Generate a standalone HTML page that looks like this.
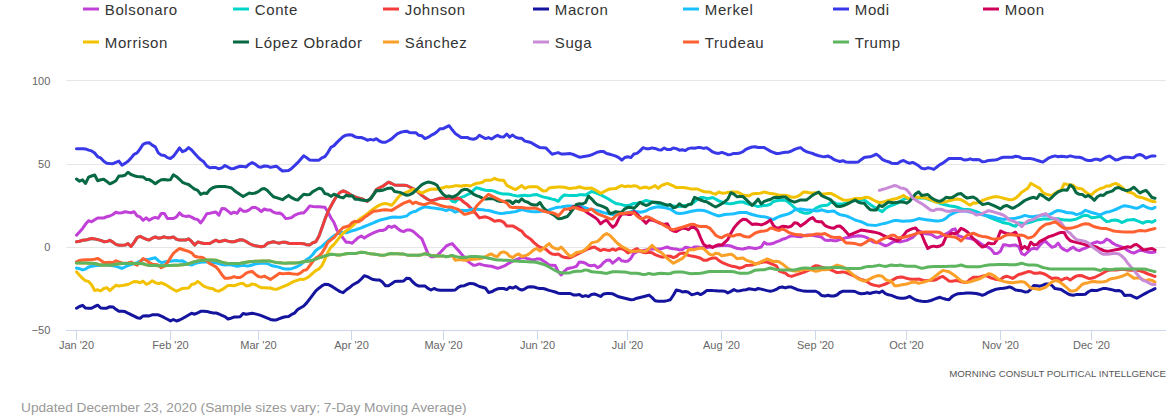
<!DOCTYPE html>
<html><head><meta charset="utf-8"><title>Global Leader Approval</title>
<style>
html,body{margin:0;padding:0;background:#fff;width:1175px;height:418px;overflow:hidden}
svg{position:absolute;left:0;top:0;font-family:"Liberation Sans", sans-serif}
</style></head><body>
<svg width="1175" height="418" viewBox="0 0 1175 418">
<path d="M66 80.5 L1166 80.5" stroke="#e6e6e6" stroke-width="1" fill="none"/>
<path d="M66 164.5 L1166 164.5" stroke="#e6e6e6" stroke-width="1" fill="none"/>
<path d="M66 247.5 L1166 247.5" stroke="#e6e6e6" stroke-width="1" fill="none"/>
<path d="M66 330.5 L1166 330.5" stroke="#ccd6eb" stroke-width="1" fill="none"/>
<path d="M76.5 330 L76.5 340" stroke="#ccd6eb" stroke-width="1" fill="none"/>
<path d="M170.5 330 L170.5 340" stroke="#ccd6eb" stroke-width="1" fill="none"/>
<path d="M258.5 330 L258.5 340" stroke="#ccd6eb" stroke-width="1" fill="none"/>
<path d="M351.5 330 L351.5 340" stroke="#ccd6eb" stroke-width="1" fill="none"/>
<path d="M443.5 330 L443.5 340" stroke="#ccd6eb" stroke-width="1" fill="none"/>
<path d="M537.5 330 L537.5 340" stroke="#ccd6eb" stroke-width="1" fill="none"/>
<path d="M627.5 330 L627.5 340" stroke="#ccd6eb" stroke-width="1" fill="none"/>
<path d="M721.5 330 L721.5 340" stroke="#ccd6eb" stroke-width="1" fill="none"/>
<path d="M815.5 330 L815.5 340" stroke="#ccd6eb" stroke-width="1" fill="none"/>
<path d="M906.5 330 L906.5 340" stroke="#ccd6eb" stroke-width="1" fill="none"/>
<path d="M1000.5 330 L1000.5 340" stroke="#ccd6eb" stroke-width="1" fill="none"/>
<path d="M1091.5 330 L1091.5 340" stroke="#ccd6eb" stroke-width="1" fill="none"/>
<text x="76.5" y="349" text-anchor="middle" font-size="11" fill="#666666">Jan '20</text>
<text x="170.5" y="349" text-anchor="middle" font-size="11" fill="#666666">Feb '20</text>
<text x="258.5" y="349" text-anchor="middle" font-size="11" fill="#666666">Mar '20</text>
<text x="351.5" y="349" text-anchor="middle" font-size="11" fill="#666666">Apr '20</text>
<text x="443.5" y="349" text-anchor="middle" font-size="11" fill="#666666">May '20</text>
<text x="537.5" y="349" text-anchor="middle" font-size="11" fill="#666666">Jun '20</text>
<text x="627.5" y="349" text-anchor="middle" font-size="11" fill="#666666">Jul '20</text>
<text x="721.5" y="349" text-anchor="middle" font-size="11" fill="#666666">Aug '20</text>
<text x="815.5" y="349" text-anchor="middle" font-size="11" fill="#666666">Sep '20</text>
<text x="906.5" y="349" text-anchor="middle" font-size="11" fill="#666666">Oct '20</text>
<text x="1000.5" y="349" text-anchor="middle" font-size="11" fill="#666666">Nov '20</text>
<text x="1091.5" y="349" text-anchor="middle" font-size="11" fill="#666666">Dec '20</text>
<text x="50.3" y="85" text-anchor="end" font-size="11" fill="#666666">100</text>
<text x="50.3" y="168" text-anchor="end" font-size="11" fill="#666666">50</text>
<text x="50.3" y="251" text-anchor="end" font-size="11" fill="#666666">0</text>
<text x="50.3" y="334" text-anchor="end" font-size="11" fill="#666666">−50</text>
<path d="M76.5 235.2 L79.5 231.9 L82.6 228.4 L85.6 224.1 L88.6 220.7 L91.6 221.8 L94.7 219.8 L97.7 218.0 L100.7 218.0 L103.8 218.0 L106.8 216.7 L109.8 216.0 L112.9 214.5 L115.9 212.2 L118.9 213.1 L121.9 212.7 L125.0 211.8 L128.0 212.3 L131.0 212.7 L134.1 211.7 L137.1 215.8 L140.1 216.9 L143.1 220.3 L146.2 217.8 L149.2 220.3 L152.2 218.4 L155.3 217.3 L158.3 218.3 L161.3 213.4 L164.4 213.5 L167.4 218.5 L170.4 218.5 L173.4 218.5 L176.5 216.9 L179.5 212.8 L182.5 215.6 L185.6 216.4 L188.6 215.9 L191.6 217.1 L194.7 218.9 L197.7 219.6 L200.7 222.9 L203.7 218.8 L206.8 213.7 L209.8 213.2 L212.8 212.6 L215.9 212.1 L218.9 215.2 L221.9 208.5 L224.9 208.7 L228.0 211.1 L231.0 213.7 L234.0 212.2 L237.1 213.3 L240.1 208.8 L243.1 211.2 L246.2 211.3 L249.2 209.8 L252.2 207.4 L255.2 207.4 L258.3 209.0 L261.3 211.6 L264.3 209.0 L267.4 210.1 L270.4 210.1 L273.4 212.2 L276.4 213.2 L279.5 212.9 L282.5 214.6 L285.5 218.4 L288.6 218.3 L291.6 217.6 L294.6 215.3 L297.7 213.9 L300.7 213.1 L303.7 213.0 L306.7 209.8 L309.8 205.9 L312.8 206.5 L315.8 206.7 L318.9 206.8 L321.9 207.0 L324.9 207.2 L327.9 212.0 L331.0 218.0 L334.0 222.5 L337.0 230.1 L340.1 234.1 L343.1 238.1 L346.1 242.2 L349.2 242.2 L352.2 243.3 L355.2 240.3 L358.2 237.6 L361.3 236.1 L364.3 238.1 L367.3 236.1 L370.4 234.3 L373.4 232.9 L376.4 231.6 L379.4 230.6 L382.5 230.5 L385.5 229.4 L388.5 226.2 L391.6 227.4 L394.6 225.9 L397.6 228.5 L400.7 230.8 L403.7 231.6 L406.7 230.0 L409.7 229.9 L412.8 231.2 L415.8 233.6 L418.8 236.3 L421.9 238.9 L424.9 246.1 L427.9 253.6 L431.0 256.8 L434.0 256.7 L437.0 255.7 L440.0 252.8 L443.1 249.5 L446.1 246.2 L449.1 244.7 L452.2 243.6 L455.2 246.9 L458.2 250.2 L461.2 253.8 L464.3 257.3 L467.3 260.8 L470.3 263.1 L473.4 265.3 L476.4 264.9 L479.4 263.9 L482.5 264.9 L485.5 265.6 L488.5 265.9 L491.5 266.3 L494.6 267.3 L497.6 268.3 L500.6 267.4 L503.7 266.2 L506.7 264.6 L509.7 262.7 L512.7 261.1 L515.8 259.8 L518.8 258.6 L521.8 257.8 L524.9 257.8 L527.9 258.8 L530.9 259.4 L534.0 259.8 L537.0 258.8 L540.0 258.9 L543.0 260.6 L546.1 262.8 L549.1 265.0 L552.1 265.2 L555.2 265.5 L558.2 271.6 L561.2 275.0 L564.2 271.4 L567.3 268.7 L570.3 268.0 L573.3 267.4 L576.4 266.4 L579.4 261.9 L582.4 262.3 L585.5 263.3 L588.5 265.3 L591.5 265.8 L594.5 265.1 L597.6 267.7 L600.6 265.9 L603.6 262.6 L606.7 260.2 L609.7 260.0 L612.7 263.2 L615.8 260.7 L618.8 258.2 L621.8 260.8 L624.8 261.4 L627.9 261.1 L630.9 258.3 L633.9 253.3 L637.0 251.8 L640.0 250.7 L643.0 250.4 L646.0 250.0 L649.1 249.2 L652.1 248.9 L655.1 249.1 L658.2 249.1 L661.2 248.9 L664.2 247.9 L667.3 247.0 L670.3 248.3 L673.3 248.7 L676.3 249.0 L679.4 249.9 L682.4 249.6 L685.4 247.3 L688.5 247.7 L691.5 248.7 L694.5 246.9 L697.5 247.1 L700.6 247.4 L703.6 247.5 L706.6 247.5 L709.7 247.3 L712.7 246.9 L715.7 246.3 L718.8 245.7 L721.8 245.4 L724.8 245.4 L727.8 245.6 L730.9 246.0 L733.9 247.3 L736.9 248.2 L740.0 248.8 L743.0 249.0 L746.0 248.3 L749.0 247.5 L752.1 247.9 L755.1 248.4 L758.1 247.9 L761.2 247.0 L764.2 242.4 L767.2 244.1 L770.3 244.0 L773.3 243.3 L776.3 241.9 L779.3 240.9 L782.4 239.3 L785.4 238.5 L788.4 237.0 L791.5 235.7 L794.5 236.0 L797.5 236.5 L800.6 236.8 L803.6 235.8 L806.6 235.1 L809.6 234.9 L812.7 235.4 L815.7 236.1 L818.7 236.4 L821.8 237.3 L824.8 240.0 L827.8 240.5 L830.8 240.1 L833.9 240.8 L836.9 240.7 L839.9 239.7 L843.0 238.7 L846.0 237.7 L849.0 237.2 L852.1 236.6 L855.1 236.2 L858.1 235.7 L861.1 236.0 L864.2 236.6 L867.2 237.8 L870.2 240.1 L873.3 242.1 L876.3 242.5 L879.3 242.8 L882.3 244.3 L885.4 245.8 L888.4 244.8 L891.4 242.9 L894.5 241.4 L897.5 241.6 L900.5 241.9 L903.6 241.1 L906.6 240.4 L909.6 238.9 L912.6 237.4 L915.7 234.5 L918.7 231.0 L921.7 232.2 L924.8 233.5 L927.8 234.0 L930.8 234.2 L933.8 236.1 L936.9 237.8 L939.9 236.6 L942.9 235.4 L946.0 233.8 L949.0 232.3 L952.0 229.8 L955.1 228.9 L958.1 235.6 L961.1 236.6 L964.1 237.6 L967.2 238.1 L970.2 238.5 L973.2 239.3 L976.3 240.5 L979.3 242.5 L982.3 244.7 L985.4 246.2 L988.4 247.3 L991.4 249.6 L994.4 253.6 L997.5 253.4 L1000.5 251.2 L1003.5 244.7 L1006.6 245.1 L1009.6 245.7 L1012.6 245.2 L1015.6 245.1 L1018.7 246.5 L1021.7 253.6 L1024.7 255.0 L1027.8 252.0 L1030.8 249.4 L1033.8 248.2 L1036.9 249.1 L1039.9 245.2 L1042.9 242.1 L1045.9 241.6 L1049.0 244.7 L1052.0 247.3 L1055.0 246.4 L1058.1 243.0 L1061.1 247.5 L1064.1 249.7 L1067.1 250.9 L1070.2 248.9 L1073.2 247.1 L1076.2 249.6 L1079.3 250.7 L1082.3 249.2 L1085.3 248.2 L1088.4 246.6 L1091.4 244.0 L1094.4 242.7 L1097.4 241.8 L1100.5 242.9 L1103.5 242.1 L1106.5 239.1 L1109.6 240.5 L1112.6 243.1 L1115.6 244.8 L1118.6 245.8 L1121.7 246.9 L1124.7 248.2 L1127.7 250.5 L1130.8 252.1 L1133.8 253.1 L1136.8 251.7 L1139.9 250.2 L1142.9 250.5 L1145.9 251.5 L1148.9 252.2 L1152.0 252.4 L1155.0 251.9" stroke="#c040d8" stroke-width="3" fill="none" stroke-linejoin="round" stroke-linecap="round"/>
<path d="M76.5 241.8 L79.5 241.3 L82.6 240.3 L85.6 240.1 L88.6 239.2 L91.6 238.5 L94.7 238.9 L97.7 239.6 L100.7 240.4 L103.8 241.7 L106.8 241.6 L109.8 240.3 L112.9 242.1 L115.9 244.4 L118.9 245.2 L121.9 245.2 L125.0 245.1 L128.0 243.6 L131.0 246.5 L134.1 242.4 L137.1 237.6 L140.1 236.3 L143.1 237.9 L146.2 239.2 L149.2 240.1 L152.2 238.2 L155.3 237.0 L158.3 238.2 L161.3 237.7 L164.4 236.8 L167.4 237.8 L170.4 237.8 L173.4 236.9 L176.5 239.3 L179.5 240.1 L182.5 240.1 L185.6 240.1 L188.6 238.8 L191.6 241.4 L194.7 245.0 L197.7 242.0 L200.7 242.8 L203.7 243.5 L206.8 243.5 L209.8 243.5 L212.8 241.8 L215.9 240.2 L218.9 241.7 L221.9 241.0 L224.9 240.2 L228.0 241.1 L231.0 241.8 L234.0 241.7 L237.1 240.7 L240.1 239.7 L243.1 240.0 L246.2 241.6 L249.2 243.5 L252.2 244.9 L255.2 245.7 L258.3 246.3 L261.3 246.8 L264.3 246.1 L267.4 243.3 L270.4 242.5 L273.4 241.8 L276.4 242.6 L279.5 243.2 L282.5 242.2 L285.5 242.2 L288.6 243.2 L291.6 243.4 L294.6 243.4 L297.7 243.4 L300.7 243.5 L303.7 243.7 L306.7 244.8 L309.8 244.9 L312.8 242.7 L315.8 241.8 L318.9 236.3 L321.9 227.9 L324.9 219.4 L327.9 211.8 L331.0 206.0 L334.0 200.6 L337.0 195.5 L340.1 192.3 L343.1 190.8 L346.1 192.0 L349.2 193.9 L352.2 195.7 L355.2 196.9 L358.2 197.9 L361.3 198.7 L364.3 200.0 L367.3 201.5 L370.4 198.7 L373.4 194.5 L376.4 189.5 L379.4 187.8 L382.5 186.4 L385.5 184.3 L388.5 182.2 L391.6 183.5 L394.6 185.0 L397.6 185.2 L400.7 185.3 L403.7 185.3 L406.7 185.5 L409.7 187.0 L412.8 188.5 L415.8 190.0 L418.8 192.6 L421.9 195.4 L424.9 197.6 L427.9 199.5 L431.0 200.9 L434.0 200.1 L437.0 199.1 L440.0 198.2 L443.1 198.2 L446.1 198.4 L449.1 197.9 L452.2 201.2 L455.2 202.0 L458.2 199.1 L461.2 197.4 L464.3 196.3 L467.3 194.7 L470.3 193.3 L473.4 190.4 L476.4 187.7 L479.4 188.5 L482.5 189.5 L485.5 190.2 L488.5 190.6 L491.5 190.6 L494.6 191.3 L497.6 192.7 L500.6 193.4 L503.7 193.9 L506.7 193.9 L509.7 194.3 L512.7 195.1 L515.8 195.7 L518.8 195.9 L521.8 195.4 L524.9 195.3 L527.9 195.8 L530.9 195.4 L534.0 194.8 L537.0 194.6 L540.0 195.8 L543.0 196.9 L546.1 197.6 L549.1 198.3 L552.1 199.1 L555.2 199.8 L558.2 201.3 L561.2 197.5 L564.2 194.9 L567.3 195.3 L570.3 195.6 L573.3 195.6 L576.4 195.6 L579.4 194.8 L582.4 194.7 L585.5 195.1 L588.5 193.3 L591.5 191.4 L594.5 192.4 L597.6 193.5 L600.6 194.8 L603.6 196.4 L606.7 198.0 L609.7 199.8 L612.7 201.7 L615.8 203.4 L618.8 203.9 L621.8 204.6 L624.8 205.6 L627.9 205.6 L630.9 204.7 L633.9 203.5 L637.0 203.2 L640.0 202.6 L643.0 201.7 L646.0 200.5 L649.1 201.2 L652.1 202.1 L655.1 202.8 L658.2 203.5 L661.2 204.2 L664.2 204.7 L667.3 205.1 L670.3 205.4 L673.3 205.9 L676.3 206.5 L679.4 206.5 L682.4 206.1 L685.4 205.6 L688.5 204.9 L691.5 204.0 L694.5 201.7 L697.5 199.4 L700.6 197.5 L703.6 197.6 L706.6 198.5 L709.7 198.2 L712.7 197.5 L715.7 199.2 L718.8 200.8 L721.8 202.0 L724.8 203.1 L727.8 203.5 L730.9 203.7 L733.9 203.3 L736.9 202.5 L740.0 202.0 L743.0 201.9 L746.0 203.4 L749.0 204.3 L752.1 204.5 L755.1 205.6 L758.1 206.6 L761.2 205.9 L764.2 205.4 L767.2 205.2 L770.3 204.3 L773.3 201.5 L776.3 200.8 L779.3 200.3 L782.4 200.1 L785.4 200.2 L788.4 202.3 L791.5 204.8 L794.5 207.8 L797.5 210.0 L800.6 211.9 L803.6 212.9 L806.6 213.3 L809.6 212.8 L812.7 210.8 L815.7 208.3 L818.7 206.8 L821.8 205.8 L824.8 205.4 L827.8 205.0 L830.8 202.3 L833.9 202.3 L836.9 204.1 L839.9 204.0 L843.0 203.9 L846.0 203.1 L849.0 202.1 L852.1 201.2 L855.1 200.5 L858.1 199.9 L861.1 199.9 L864.2 199.9 L867.2 202.1 L870.2 204.4 L873.3 206.4 L876.3 208.3 L879.3 210.1 L882.3 211.6 L885.4 208.6 L888.4 206.7 L891.4 205.5 L894.5 204.3 L897.5 203.1 L900.5 201.3 L903.6 199.2 L906.6 198.3 L909.6 198.5 L912.6 198.6 L915.7 198.1 L918.7 197.7 L921.7 197.9 L924.8 198.1 L927.8 199.0 L930.8 200.2 L933.8 201.2 L936.9 202.3 L939.9 203.3 L942.9 204.2 L946.0 205.0 L949.0 205.8 L952.0 206.2 L955.1 206.6 L958.1 207.5 L961.1 208.8 L964.1 209.6 L967.2 209.6 L970.2 209.7 L973.2 210.7 L976.3 211.7 L979.3 212.8 L982.3 214.0 L985.4 215.3 L988.4 216.8 L991.4 218.2 L994.4 219.4 L997.5 220.5 L1000.5 221.6 L1003.5 222.8 L1006.6 223.2 L1009.6 223.9 L1012.6 225.5 L1015.6 226.2 L1018.7 222.8 L1021.7 223.2 L1024.7 223.6 L1027.8 222.9 L1030.8 222.1 L1033.8 221.0 L1036.9 219.9 L1039.9 219.5 L1042.9 219.0 L1045.9 218.9 L1049.0 218.9 L1052.0 218.8 L1055.0 218.7 L1058.1 218.8 L1061.1 219.4 L1064.1 220.0 L1067.1 220.1 L1070.2 220.3 L1073.2 219.7 L1076.2 219.1 L1079.3 217.7 L1082.3 216.0 L1085.3 215.3 L1088.4 215.8 L1091.4 217.8 L1094.4 217.6 L1097.4 216.9 L1100.5 216.6 L1103.5 219.1 L1106.5 221.5 L1109.6 221.2 L1112.6 220.2 L1115.6 220.0 L1118.6 220.7 L1121.7 222.5 L1124.7 221.4 L1127.7 219.9 L1130.8 219.7 L1133.8 219.4 L1136.8 220.7 L1139.9 221.9 L1142.9 223.2 L1145.9 221.7 L1148.9 221.4 L1152.0 222.2 L1155.0 220.6" stroke="#00d4c8" stroke-width="3" fill="none" stroke-linejoin="round" stroke-linecap="round"/>
<path d="M76.5 241.8 L79.5 241.3 L82.6 240.3 L85.6 240.1 L88.6 239.2 L91.6 238.5 L94.7 238.9 L97.7 239.6 L100.7 240.4 L103.8 241.7 L106.8 241.6 L109.8 240.3 L112.9 242.1 L115.9 244.4 L118.9 245.2 L121.9 245.2 L125.0 245.1 L128.0 243.6 L131.0 246.5 L134.1 242.4 L137.1 237.6 L140.1 236.3 L143.1 237.9 L146.2 239.2 L149.2 240.1 L152.2 238.2 L155.3 237.0 L158.3 238.2 L161.3 237.7 L164.4 236.8 L167.4 237.8 L170.4 237.8 L173.4 236.9 L176.5 239.3 L179.5 240.1 L182.5 240.1 L185.6 240.1 L188.6 238.8 L191.6 241.4 L194.7 245.0 L197.7 242.0 L200.7 242.8 L203.7 243.5 L206.8 243.5 L209.8 243.5 L212.8 241.8 L215.9 240.2 L218.9 241.7 L221.9 241.0 L224.9 240.2 L228.0 241.1 L231.0 241.8 L234.0 241.7 L237.1 240.7 L240.1 239.7 L243.1 240.0 L246.2 241.6 L249.2 243.5 L252.2 244.9 L255.2 245.7 L258.3 246.3 L261.3 246.8 L264.3 246.1 L267.4 243.3 L270.4 242.5 L273.4 241.8 L276.4 242.6 L279.5 243.2 L282.5 242.2 L285.5 242.2 L288.6 243.2 L291.6 243.4 L294.6 243.4 L297.7 243.4 L300.7 243.5 L303.7 243.7 L306.7 244.8 L309.8 244.9 L312.8 242.7 L315.8 241.8 L318.9 236.3 L321.9 227.9 L324.9 219.4 L327.9 211.8 L331.0 206.0 L334.0 200.6 L337.0 195.5 L340.1 192.3 L343.1 190.8 L346.1 192.0 L349.2 193.9 L352.2 195.7 L355.2 196.9 L358.2 197.9 L361.3 198.7 L364.3 200.0 L367.3 201.5 L370.4 198.7 L373.4 194.5 L376.4 189.5 L379.4 187.8 L382.5 186.4 L385.5 184.3 L388.5 182.2 L391.6 183.5 L394.6 185.0 L397.6 185.2 L400.7 185.3 L403.7 185.3 L406.7 185.5 L409.7 187.0 L412.8 188.5 L415.8 190.0 L418.8 192.6 L421.9 195.4 L424.9 197.6 L427.9 199.5 L431.0 200.9 L434.0 200.1 L437.0 199.1 L440.0 198.2 L443.1 198.2 L446.1 198.4 L449.1 197.9 L452.2 198.2 L455.2 199.0 L458.2 197.9 L461.2 199.8 L464.3 202.5 L467.3 204.6 L470.3 207.6 L473.4 210.7 L476.4 214.2 L479.4 217.9 L482.5 217.3 L485.5 216.8 L488.5 217.8 L491.5 219.4 L494.6 221.2 L497.6 220.6 L500.6 220.7 L503.7 222.3 L506.7 226.0 L509.7 225.9 L512.7 225.9 L515.8 227.6 L518.8 229.6 L521.8 231.1 L524.9 235.2 L527.9 237.2 L530.9 239.4 L534.0 242.6 L537.0 245.2 L540.0 247.2 L543.0 248.2 L546.1 249.3 L549.1 252.2 L552.1 254.1 L555.2 254.4 L558.2 254.1 L561.2 256.1 L564.2 257.3 L567.3 257.8 L570.3 257.7 L573.3 256.2 L576.4 254.7 L579.4 253.2 L582.4 251.7 L585.5 250.1 L588.5 248.7 L591.5 247.8 L594.5 246.9 L597.6 248.9 L600.6 250.6 L603.6 249.4 L606.7 250.0 L609.7 250.4 L612.7 249.0 L615.8 250.3 L618.8 248.5 L621.8 248.7 L624.8 250.1 L627.9 252.9 L630.9 251.9 L633.9 250.1 L637.0 248.6 L640.0 251.2 L643.0 252.3 L646.0 252.9 L649.1 252.2 L652.1 252.8 L655.1 254.6 L658.2 255.8 L661.2 256.9 L664.2 256.9 L667.3 256.1 L670.3 256.2 L673.3 257.7 L676.3 256.5 L679.4 253.9 L682.4 253.1 L685.4 253.3 L688.5 255.4 L691.5 256.0 L694.5 256.5 L697.5 257.2 L700.6 258.2 L703.6 260.2 L706.6 260.3 L709.7 258.9 L712.7 258.0 L715.7 257.9 L718.8 260.4 L721.8 262.3 L724.8 263.6 L727.8 264.8 L730.9 265.9 L733.9 266.4 L736.9 267.2 L740.0 268.2 L743.0 267.1 L746.0 265.5 L749.0 265.3 L752.1 265.0 L755.1 264.2 L758.1 263.2 L761.2 262.5 L764.2 261.9 L767.2 262.1 L770.3 263.4 L773.3 264.6 L776.3 265.8 L779.3 271.0 L782.4 272.2 L785.4 273.1 L788.4 275.6 L791.5 276.4 L794.5 275.4 L797.5 274.4 L800.6 273.4 L803.6 272.4 L806.6 271.2 L809.6 269.9 L812.7 267.1 L815.7 265.7 L818.7 266.1 L821.8 267.3 L824.8 267.9 L827.8 269.1 L830.8 269.9 L833.9 271.2 L836.9 272.6 L839.9 272.3 L843.0 271.9 L846.0 272.6 L849.0 273.8 L852.1 275.0 L855.1 276.3 L858.1 278.0 L861.1 279.5 L864.2 280.3 L867.2 281.7 L870.2 283.9 L873.3 285.0 L876.3 285.6 L879.3 286.2 L882.3 285.2 L885.4 284.0 L888.4 282.7 L891.4 280.8 L894.5 278.9 L897.5 277.4 L900.5 277.1 L903.6 277.3 L906.6 278.3 L909.6 279.1 L912.6 279.3 L915.7 279.2 L918.7 278.9 L921.7 280.0 L924.8 280.7 L927.8 280.4 L930.8 280.3 L933.8 280.2 L936.9 279.2 L939.9 277.4 L942.9 276.5 L946.0 278.7 L949.0 281.1 L952.0 281.2 L955.1 280.6 L958.1 280.8 L961.1 281.8 L964.1 282.4 L967.2 282.1 L970.2 279.2 L973.2 277.3 L976.3 277.3 L979.3 277.2 L982.3 276.3 L985.4 275.5 L988.4 276.6 L991.4 278.1 L994.4 278.9 L997.5 279.4 L1000.5 279.9 L1003.5 277.2 L1006.6 276.3 L1009.6 277.1 L1012.6 278.4 L1015.6 276.6 L1018.7 274.5 L1021.7 273.7 L1024.7 272.8 L1027.8 271.6 L1030.8 271.7 L1033.8 273.3 L1036.9 273.3 L1039.9 272.7 L1042.9 273.5 L1045.9 274.7 L1049.0 276.8 L1052.0 278.6 L1055.0 278.1 L1058.1 278.2 L1061.1 280.4 L1064.1 278.8 L1067.1 277.9 L1070.2 279.9 L1073.2 277.9 L1076.2 276.1 L1079.3 275.5 L1082.3 275.8 L1085.3 277.2 L1088.4 278.4 L1091.4 278.2 L1094.4 277.5 L1097.4 276.0 L1100.5 274.5 L1103.5 272.8 L1106.5 271.0 L1109.6 270.1 L1112.6 270.0 L1115.6 270.0 L1118.6 269.7 L1121.7 269.3 L1124.7 269.5 L1127.7 270.1 L1130.8 270.2 L1133.8 270.0 L1136.8 270.2 L1139.9 270.8 L1142.9 271.7 L1145.9 273.0 L1148.9 274.3 L1152.0 275.3 L1155.0 276.5" stroke="#f33b3b" stroke-width="3" fill="none" stroke-linejoin="round" stroke-linecap="round"/>
<path d="M76.5 308.2 L79.5 306.5 L82.6 305.3 L85.6 308.1 L88.6 308.2 L91.6 308.2 L94.7 306.5 L97.7 305.2 L100.7 308.0 L103.8 308.2 L106.8 308.2 L109.8 306.7 L112.9 306.9 L115.9 309.3 L118.9 311.3 L121.9 311.3 L125.0 311.6 L128.0 313.2 L131.0 314.7 L134.1 316.2 L137.1 317.7 L140.1 318.3 L143.1 315.9 L146.2 315.8 L149.2 315.9 L152.2 314.8 L155.3 314.8 L158.3 314.8 L161.3 316.2 L164.4 317.7 L167.4 319.3 L170.4 320.9 L173.4 319.5 L176.5 321.0 L179.5 320.0 L182.5 318.5 L185.6 316.7 L188.6 315.0 L191.6 313.3 L194.7 314.2 L197.7 312.8 L200.7 311.3 L203.7 311.3 L206.8 311.4 L209.8 312.3 L212.8 312.9 L215.9 312.9 L218.9 314.0 L221.9 315.4 L224.9 316.6 L228.0 319.0 L231.0 318.2 L234.0 317.1 L237.1 316.9 L240.1 316.7 L243.1 313.5 L246.2 314.2 L249.2 313.7 L252.2 313.2 L255.2 313.9 L258.3 314.6 L261.3 315.7 L264.3 316.9 L267.4 318.2 L270.4 319.4 L273.4 319.9 L276.4 319.9 L279.5 318.7 L282.5 317.5 L285.5 316.7 L288.6 316.4 L291.6 314.4 L294.6 313.1 L297.7 309.6 L300.7 307.7 L303.7 306.0 L306.7 302.9 L309.8 298.9 L312.8 294.9 L315.8 290.8 L318.9 288.2 L321.9 285.9 L324.9 284.3 L327.9 284.4 L331.0 285.9 L334.0 287.7 L337.0 289.8 L340.1 291.6 L343.1 292.7 L346.1 290.0 L349.2 287.8 L352.2 285.3 L355.2 283.5 L358.2 281.9 L361.3 279.0 L364.3 275.7 L367.3 276.6 L370.4 278.3 L373.4 279.6 L376.4 279.9 L379.4 280.0 L382.5 282.1 L385.5 285.8 L388.5 285.8 L391.6 283.8 L394.6 281.6 L397.6 281.3 L400.7 281.3 L403.7 281.0 L406.7 278.2 L409.7 278.5 L412.8 282.0 L415.8 284.6 L418.8 286.1 L421.9 286.1 L424.9 285.9 L427.9 288.4 L431.0 290.0 L434.0 288.5 L437.0 289.7 L440.0 290.3 L443.1 290.3 L446.1 290.3 L449.1 290.3 L452.2 290.3 L455.2 290.0 L458.2 287.3 L461.2 285.9 L464.3 285.7 L467.3 284.3 L470.3 283.4 L473.4 283.7 L476.4 285.0 L479.4 286.5 L482.5 287.3 L485.5 288.2 L488.5 292.5 L491.5 291.8 L494.6 290.2 L497.6 288.8 L500.6 288.4 L503.7 288.5 L506.7 289.6 L509.7 287.2 L512.7 288.1 L515.8 286.6 L518.8 288.8 L521.8 290.1 L524.9 288.8 L527.9 287.0 L530.9 286.8 L534.0 287.0 L537.0 287.9 L540.0 288.4 L543.0 288.5 L546.1 289.3 L549.1 290.4 L552.1 291.1 L555.2 292.0 L558.2 293.2 L561.2 293.5 L564.2 293.5 L567.3 293.5 L570.3 293.5 L573.3 294.9 L576.4 294.9 L579.4 294.6 L582.4 296.6 L585.5 295.6 L588.5 296.5 L591.5 294.5 L594.5 294.0 L597.6 295.1 L600.6 296.5 L603.6 293.9 L606.7 293.6 L609.7 293.6 L612.7 293.8 L615.8 295.4 L618.8 296.8 L621.8 297.5 L624.8 298.2 L627.9 299.0 L630.9 299.8 L633.9 299.4 L637.0 298.2 L640.0 297.5 L643.0 296.8 L646.0 296.0 L649.1 295.1 L652.1 297.6 L655.1 300.8 L658.2 301.3 L661.2 301.3 L664.2 301.3 L667.3 300.6 L670.3 299.8 L673.3 295.2 L676.3 290.0 L679.4 290.7 L682.4 291.9 L685.4 291.5 L688.5 292.3 L691.5 294.7 L694.5 294.1 L697.5 293.1 L700.6 294.6 L703.6 293.0 L706.6 290.6 L709.7 290.4 L712.7 290.6 L715.7 290.7 L718.8 290.9 L721.8 291.0 L724.8 291.2 L727.8 292.9 L730.9 291.4 L733.9 289.6 L736.9 291.0 L740.0 290.7 L743.0 290.1 L746.0 289.7 L749.0 288.8 L752.1 289.3 L755.1 289.8 L758.1 288.5 L761.2 289.1 L764.2 289.9 L767.2 290.6 L770.3 291.2 L773.3 290.6 L776.3 289.4 L779.3 287.4 L782.4 287.0 L785.4 287.9 L788.4 287.0 L791.5 287.1 L794.5 288.4 L797.5 289.7 L800.6 290.4 L803.6 291.1 L806.6 291.2 L809.6 291.2 L812.7 291.2 L815.7 291.2 L818.7 292.8 L821.8 295.6 L824.8 296.1 L827.8 295.2 L830.8 296.0 L833.9 296.0 L836.9 295.0 L839.9 292.5 L843.0 291.2 L846.0 291.2 L849.0 291.2 L852.1 291.2 L855.1 291.5 L858.1 293.0 L861.1 293.7 L864.2 293.6 L867.2 292.7 L870.2 293.5 L873.3 292.4 L876.3 291.9 L879.3 292.7 L882.3 291.0 L885.4 293.6 L888.4 294.8 L891.4 295.4 L894.5 296.6 L897.5 297.8 L900.5 298.2 L903.6 298.2 L906.6 297.7 L909.6 296.4 L912.6 298.2 L915.7 300.0 L918.7 300.7 L921.7 301.2 L924.8 301.6 L927.8 301.3 L930.8 300.5 L933.8 299.4 L936.9 298.2 L939.9 297.3 L942.9 298.4 L946.0 299.3 L949.0 299.8 L952.0 296.6 L955.1 294.8 L958.1 293.7 L961.1 293.4 L964.1 293.2 L967.2 292.9 L970.2 292.9 L973.2 293.2 L976.3 293.5 L979.3 294.2 L982.3 295.3 L985.4 294.1 L988.4 292.3 L991.4 291.0 L994.4 289.8 L997.5 288.9 L1000.5 288.6 L1003.5 288.3 L1006.6 287.7 L1009.6 286.9 L1012.6 288.2 L1015.6 290.0 L1018.7 290.4 L1021.7 290.8 L1024.7 291.9 L1027.8 291.8 L1030.8 289.3 L1033.8 285.5 L1036.9 285.8 L1039.9 286.2 L1042.9 285.2 L1045.9 283.9 L1049.0 284.0 L1052.0 285.5 L1055.0 288.6 L1058.1 289.0 L1061.1 289.4 L1064.1 291.5 L1067.1 293.3 L1070.2 294.8 L1073.2 295.2 L1076.2 294.6 L1079.3 294.4 L1082.3 294.4 L1085.3 294.2 L1088.4 291.8 L1091.4 290.2 L1094.4 290.6 L1097.4 290.4 L1100.5 289.4 L1103.5 288.4 L1106.5 288.6 L1109.6 289.2 L1112.6 289.9 L1115.6 290.7 L1118.6 290.4 L1121.7 291.6 L1124.7 295.5 L1127.7 295.2 L1130.8 295.3 L1133.8 296.8 L1136.8 298.2 L1139.9 296.5 L1142.9 294.8 L1145.9 293.1 L1148.9 291.5 L1152.0 290.1 L1155.0 288.6" stroke="#14149e" stroke-width="3" fill="none" stroke-linejoin="round" stroke-linecap="round"/>
<path d="M76.5 268.0 L79.5 268.7 L82.6 269.9 L85.6 269.1 L88.6 267.0 L91.6 266.3 L94.7 265.7 L97.7 265.5 L100.7 265.2 L103.8 265.1 L106.8 265.3 L109.8 265.4 L112.9 265.7 L115.9 266.2 L118.9 267.3 L121.9 268.4 L125.0 267.0 L128.0 265.5 L131.0 264.5 L134.1 263.6 L137.1 262.6 L140.1 261.1 L143.1 259.6 L146.2 259.5 L149.2 259.3 L152.2 258.5 L155.3 257.8 L158.3 260.7 L161.3 262.6 L164.4 262.0 L167.4 261.6 L170.4 261.2 L173.4 260.7 L176.5 260.5 L179.5 261.1 L182.5 260.7 L185.6 262.6 L188.6 264.2 L191.6 265.1 L194.7 263.6 L197.7 262.7 L200.7 262.3 L203.7 262.0 L206.8 262.0 L209.8 262.0 L212.8 262.4 L215.9 262.8 L218.9 263.6 L221.9 264.6 L224.9 265.0 L228.0 264.7 L231.0 264.8 L234.0 265.5 L237.1 266.3 L240.1 265.7 L243.1 265.2 L246.2 265.9 L249.2 265.8 L252.2 265.0 L255.2 263.9 L258.3 263.4 L261.3 263.3 L264.3 263.3 L267.4 263.5 L270.4 265.0 L273.4 266.1 L276.4 266.6 L279.5 267.4 L282.5 268.4 L285.5 268.9 L288.6 268.9 L291.6 268.7 L294.6 267.7 L297.7 266.3 L300.7 264.7 L303.7 262.1 L306.7 259.5 L309.8 257.5 L312.8 254.5 L315.8 250.4 L318.9 248.3 L321.9 246.4 L324.9 243.6 L327.9 240.8 L331.0 238.2 L334.0 235.7 L337.0 234.0 L340.1 232.2 L343.1 232.6 L346.1 232.8 L349.2 231.9 L352.2 230.7 L355.2 230.0 L358.2 228.9 L361.3 227.8 L364.3 226.5 L367.3 225.3 L370.4 224.1 L373.4 222.8 L376.4 221.5 L379.4 220.3 L382.5 219.5 L385.5 218.8 L388.5 218.0 L391.6 217.3 L394.6 217.0 L397.6 217.3 L400.7 217.3 L403.7 216.6 L406.7 216.0 L409.7 213.3 L412.8 211.9 L415.8 211.2 L418.8 209.4 L421.9 207.9 L424.9 206.8 L427.9 207.2 L431.0 207.7 L434.0 208.1 L437.0 208.4 L440.0 208.9 L443.1 209.6 L446.1 210.7 L449.1 209.4 L452.2 210.2 L455.2 212.2 L458.2 211.1 L461.2 210.2 L464.3 210.4 L467.3 210.6 L470.3 209.8 L473.4 209.1 L476.4 209.2 L479.4 209.5 L482.5 209.8 L485.5 210.2 L488.5 210.5 L491.5 211.3 L494.6 212.2 L497.6 212.9 L500.6 213.4 L503.7 213.2 L506.7 212.8 L509.7 212.5 L512.7 212.1 L515.8 211.5 L518.8 210.5 L521.8 209.6 L524.9 210.4 L527.9 211.1 L530.9 211.5 L534.0 211.7 L537.0 211.7 L540.0 211.5 L543.0 211.1 L546.1 210.6 L549.1 210.0 L552.1 208.9 L555.2 207.8 L558.2 207.2 L561.2 206.9 L564.2 206.5 L567.3 206.1 L570.3 206.0 L573.3 206.3 L576.4 206.7 L579.4 206.7 L582.4 206.7 L585.5 207.8 L588.5 209.0 L591.5 209.4 L594.5 210.0 L597.6 210.8 L600.6 211.6 L603.6 212.6 L606.7 213.3 L609.7 213.9 L612.7 214.4 L615.8 214.4 L618.8 214.4 L621.8 213.7 L624.8 213.1 L627.9 212.5 L630.9 211.8 L633.9 211.0 L637.0 211.6 L640.0 212.3 L643.0 211.8 L646.0 210.9 L649.1 209.2 L652.1 208.0 L655.1 207.2 L658.2 206.8 L661.2 207.2 L664.2 207.6 L667.3 208.4 L670.3 209.1 L673.3 211.1 L676.3 213.1 L679.4 213.5 L682.4 213.2 L685.4 212.8 L688.5 212.0 L691.5 211.3 L694.5 210.7 L697.5 210.2 L700.6 210.3 L703.6 210.5 L706.6 211.4 L709.7 212.6 L712.7 213.9 L715.7 215.0 L718.8 216.0 L721.8 215.2 L724.8 214.5 L727.8 214.2 L730.9 214.1 L733.9 213.7 L736.9 213.1 L740.0 212.6 L743.0 212.5 L746.0 212.4 L749.0 213.5 L752.1 214.5 L755.1 215.3 L758.1 216.1 L761.2 216.5 L764.2 216.8 L767.2 217.4 L770.3 218.7 L773.3 219.6 L776.3 217.9 L779.3 216.5 L782.4 215.5 L785.4 214.7 L788.4 213.9 L791.5 212.4 L794.5 210.1 L797.5 209.3 L800.6 209.0 L803.6 209.5 L806.6 210.0 L809.6 210.1 L812.7 210.2 L815.7 210.9 L818.7 210.8 L821.8 209.8 L824.8 210.8 L827.8 211.7 L830.8 211.3 L833.9 211.1 L836.9 213.1 L839.9 214.6 L843.0 215.2 L846.0 215.8 L849.0 217.0 L852.1 218.5 L855.1 220.0 L858.1 220.9 L861.1 221.7 L864.2 223.2 L867.2 224.7 L870.2 225.1 L873.3 225.3 L876.3 225.4 L879.3 224.6 L882.3 223.9 L885.4 223.2 L888.4 222.4 L891.4 221.4 L894.5 220.5 L897.5 220.6 L900.5 220.9 L903.6 221.2 L906.6 221.0 L909.6 220.9 L912.6 220.6 L915.7 219.6 L918.7 218.6 L921.7 219.0 L924.8 219.5 L927.8 219.9 L930.8 220.3 L933.8 220.7 L936.9 221.1 L939.9 220.7 L942.9 220.1 L946.0 218.3 L949.0 215.5 L952.0 213.9 L955.1 212.4 L958.1 211.5 L961.1 210.9 L964.1 210.8 L967.2 211.4 L970.2 211.9 L973.2 212.4 L976.3 212.9 L979.3 213.9 L982.3 214.9 L985.4 215.5 L988.4 215.8 L991.4 216.4 L994.4 217.3 L997.5 218.2 L1000.5 218.8 L1003.5 219.4 L1006.6 219.1 L1009.6 218.7 L1012.6 218.5 L1015.6 218.2 L1018.7 217.5 L1021.7 216.6 L1024.7 215.4 L1027.8 216.1 L1030.8 216.8 L1033.8 216.5 L1036.9 216.1 L1039.9 215.4 L1042.9 215.0 L1045.9 215.2 L1049.0 214.6 L1052.0 213.5 L1055.0 211.5 L1058.1 210.4 L1061.1 210.9 L1064.1 211.8 L1067.1 212.7 L1070.2 212.7 L1073.2 213.2 L1076.2 214.6 L1079.3 213.9 L1082.3 212.6 L1085.3 210.3 L1088.4 211.4 L1091.4 212.5 L1094.4 213.3 L1097.4 214.1 L1100.5 214.9 L1103.5 213.3 L1106.5 212.1 L1109.6 211.7 L1112.6 210.7 L1115.6 209.5 L1118.6 208.2 L1121.7 206.7 L1124.7 205.7 L1127.7 206.3 L1130.8 206.9 L1133.8 207.7 L1136.8 208.4 L1139.9 207.1 L1142.9 205.4 L1145.9 206.8 L1148.9 208.1 L1152.0 208.8 L1155.0 207.3" stroke="#19bfff" stroke-width="3" fill="none" stroke-linejoin="round" stroke-linecap="round"/>
<path d="M76.5 148.7 L79.5 148.7 L82.6 148.7 L85.6 148.9 L88.6 150.1 L91.6 150.9 L94.7 153.0 L97.7 156.8 L100.7 157.9 L103.8 161.3 L106.8 163.2 L109.8 163.5 L112.9 163.7 L115.9 162.4 L118.9 161.1 L121.9 165.2 L125.0 163.4 L128.0 161.2 L131.0 158.1 L134.1 154.3 L137.1 152.9 L140.1 148.9 L143.1 144.3 L146.2 142.9 L149.2 142.8 L152.2 145.1 L155.3 146.9 L158.3 152.9 L161.3 155.1 L164.4 155.4 L167.4 157.6 L170.4 158.5 L173.4 156.3 L176.5 152.1 L179.5 147.9 L182.5 151.7 L185.6 150.3 L188.6 147.6 L191.6 150.0 L194.7 153.5 L197.7 156.8 L200.7 159.6 L203.7 161.8 L206.8 165.9 L209.8 167.8 L212.8 167.6 L215.9 167.6 L218.9 168.8 L221.9 167.9 L224.9 165.5 L228.0 167.1 L231.0 168.7 L234.0 168.5 L237.1 167.2 L240.1 166.3 L243.1 166.6 L246.2 166.9 L249.2 164.2 L252.2 162.6 L255.2 164.1 L258.3 166.7 L261.3 167.2 L264.3 166.0 L267.4 166.2 L270.4 167.4 L273.4 166.8 L276.4 166.2 L279.5 168.7 L282.5 171.0 L285.5 170.7 L288.6 170.4 L291.6 168.4 L294.6 165.7 L297.7 162.7 L300.7 159.2 L303.7 155.7 L306.7 157.7 L309.8 160.1 L312.8 160.2 L315.8 160.2 L318.9 160.2 L321.9 157.8 L324.9 156.6 L327.9 152.6 L331.0 147.2 L334.0 145.6 L337.0 142.4 L340.1 139.4 L343.1 136.7 L346.1 135.2 L349.2 134.8 L352.2 135.1 L355.2 136.9 L358.2 137.5 L361.3 137.5 L364.3 138.7 L367.3 140.2 L370.4 139.4 L373.4 140.1 L376.4 138.7 L379.4 141.0 L382.5 142.3 L385.5 142.3 L388.5 140.7 L391.6 138.9 L394.6 136.1 L397.6 133.6 L400.7 132.3 L403.7 131.6 L406.7 131.2 L409.7 132.6 L412.8 132.7 L415.8 132.7 L418.8 135.3 L421.9 135.8 L424.9 138.7 L427.9 137.4 L431.0 135.4 L434.0 133.9 L437.0 131.8 L440.0 128.7 L443.1 128.7 L446.1 127.2 L449.1 125.7 L452.2 129.8 L455.2 133.4 L458.2 135.4 L461.2 137.5 L464.3 137.5 L467.3 137.5 L470.3 138.8 L473.4 139.2 L476.4 138.3 L479.4 135.2 L482.5 137.0 L485.5 138.6 L488.5 137.6 L491.5 138.9 L494.6 136.9 L497.6 135.3 L500.6 136.8 L503.7 137.0 L506.7 134.0 L509.7 137.1 L512.7 135.1 L515.8 137.4 L518.8 138.3 L521.8 138.3 L524.9 141.1 L527.9 141.7 L530.9 142.5 L534.0 144.4 L537.0 146.1 L540.0 147.6 L543.0 147.7 L546.1 148.1 L549.1 151.2 L552.1 154.2 L555.2 153.4 L558.2 152.6 L561.2 154.0 L564.2 154.0 L567.3 153.8 L570.3 153.6 L573.3 154.5 L576.4 155.8 L579.4 157.2 L582.4 156.8 L585.5 156.3 L588.5 155.8 L591.5 154.9 L594.5 153.5 L597.6 152.1 L600.6 151.5 L603.6 151.6 L606.7 153.5 L609.7 154.3 L612.7 155.1 L615.8 156.1 L618.8 157.6 L621.8 160.2 L624.8 157.5 L627.9 156.7 L630.9 157.6 L633.9 154.0 L637.0 153.4 L640.0 150.9 L643.0 147.7 L646.0 148.7 L649.1 148.7 L652.1 147.9 L655.1 148.4 L658.2 149.7 L661.2 150.0 L664.2 148.0 L667.3 149.6 L670.3 149.6 L673.3 148.0 L676.3 148.6 L679.4 150.2 L682.4 149.7 L685.4 150.6 L688.5 148.6 L691.5 147.9 L694.5 148.2 L697.5 147.6 L700.6 147.6 L703.6 148.4 L706.6 147.8 L709.7 149.8 L712.7 151.9 L715.7 153.1 L718.8 153.4 L721.8 152.4 L724.8 153.4 L727.8 154.7 L730.9 154.4 L733.9 153.4 L736.9 153.4 L740.0 153.0 L743.0 151.6 L746.0 149.3 L749.0 148.0 L752.1 147.0 L755.1 146.7 L758.1 147.5 L761.2 147.6 L764.2 147.6 L767.2 149.3 L770.3 151.1 L773.3 152.3 L776.3 153.5 L779.3 153.4 L782.4 152.7 L785.4 152.2 L788.4 152.2 L791.5 151.0 L794.5 149.4 L797.5 148.3 L800.6 147.6 L803.6 150.1 L806.6 151.8 L809.6 152.6 L812.7 153.5 L815.7 154.8 L818.7 155.7 L821.8 156.4 L824.8 156.7 L827.8 156.0 L830.8 157.3 L833.9 159.5 L836.9 160.6 L839.9 161.5 L843.0 160.7 L846.0 162.1 L849.0 162.3 L852.1 162.3 L855.1 162.3 L858.1 162.1 L861.1 159.7 L864.2 157.5 L867.2 157.0 L870.2 156.8 L873.3 155.7 L876.3 154.2 L879.3 156.4 L882.3 159.3 L885.4 160.9 L888.4 161.7 L891.4 163.2 L894.5 163.4 L897.5 163.5 L900.5 161.5 L903.6 160.5 L906.6 162.1 L909.6 163.3 L912.6 162.4 L915.7 163.9 L918.7 165.8 L921.7 168.3 L924.8 168.9 L927.8 167.8 L930.8 168.4 L933.8 169.4 L936.9 167.0 L939.9 164.6 L942.9 163.1 L946.0 160.7 L949.0 158.6 L952.0 158.6 L955.1 158.6 L958.1 158.6 L961.1 158.6 L964.1 160.0 L967.2 159.8 L970.2 158.8 L973.2 159.8 L976.3 159.5 L979.3 159.7 L982.3 161.7 L985.4 161.4 L988.4 160.5 L991.4 160.3 L994.4 160.1 L997.5 159.5 L1000.5 158.0 L1003.5 157.2 L1006.6 157.2 L1009.6 157.2 L1012.6 157.2 L1015.6 156.3 L1018.7 156.7 L1021.7 158.2 L1024.7 158.6 L1027.8 158.6 L1030.8 158.6 L1033.8 159.2 L1036.9 160.3 L1039.9 161.2 L1042.9 162.1 L1045.9 160.0 L1049.0 157.8 L1052.0 156.7 L1055.0 155.9 L1058.1 156.8 L1061.1 156.3 L1064.1 156.6 L1067.1 156.9 L1070.2 155.9 L1073.2 156.6 L1076.2 157.2 L1079.3 157.2 L1082.3 158.0 L1085.3 159.8 L1088.4 160.5 L1091.4 160.5 L1094.4 159.3 L1097.4 159.3 L1100.5 160.3 L1103.5 158.5 L1106.5 156.9 L1109.6 155.9 L1112.6 157.9 L1115.6 159.9 L1118.6 159.4 L1121.7 158.0 L1124.7 157.2 L1127.7 157.2 L1130.8 157.6 L1133.8 157.7 L1136.8 155.2 L1139.9 154.5 L1142.9 155.6 L1145.9 158.1 L1148.9 156.9 L1152.0 155.9 L1155.0 155.9" stroke="#3838e8" stroke-width="3" fill="none" stroke-linejoin="round" stroke-linecap="round"/>
<path d="M570.3 210.1 L573.3 206.6 L576.4 205.9 L579.4 207.2 L582.4 209.2 L585.5 211.3 L588.5 213.5 L591.5 215.2 L594.5 217.2 L597.6 219.7 L600.6 223.8 L603.6 221.3 L606.7 220.1 L609.7 223.9 L612.7 227.3 L615.8 224.9 L618.8 218.5 L621.8 214.0 L624.8 213.8 L627.9 214.4 L630.9 214.4 L633.9 211.6 L637.0 214.0 L640.0 217.2 L643.0 220.1 L646.0 223.1 L649.1 220.0 L652.1 220.0 L655.1 221.0 L658.2 222.5 L661.2 223.6 L664.2 224.4 L667.3 223.8 L670.3 229.4 L673.3 230.9 L676.3 231.4 L679.4 229.6 L682.4 228.1 L685.4 228.4 L688.5 229.7 L691.5 227.2 L694.5 227.4 L697.5 230.4 L700.6 237.8 L703.6 244.3 L706.6 246.4 L709.7 245.8 L712.7 247.5 L715.7 245.7 L718.8 244.8 L721.8 245.1 L724.8 242.3 L727.8 239.5 L730.9 233.2 L733.9 228.0 L736.9 224.4 L740.0 221.3 L743.0 219.2 L746.0 219.4 L749.0 221.9 L752.1 224.4 L755.1 223.9 L758.1 224.2 L761.2 224.9 L764.2 223.9 L767.2 222.4 L770.3 219.9 L773.3 225.3 L776.3 228.1 L779.3 227.7 L782.4 226.3 L785.4 226.5 L788.4 227.2 L791.5 226.0 L794.5 222.8 L797.5 223.3 L800.6 226.1 L803.6 224.0 L806.6 221.7 L809.6 219.1 L812.7 217.5 L815.7 221.1 L818.7 221.8 L821.8 221.8 L824.8 225.4 L827.8 226.9 L830.8 227.7 L833.9 228.2 L836.9 226.2 L839.9 226.0 L843.0 228.5 L846.0 231.8 L849.0 235.2 L852.1 234.0 L855.1 232.7 L858.1 231.3 L861.1 230.1 L864.2 230.5 L867.2 230.9 L870.2 231.4 L873.3 231.9 L876.3 232.6 L879.3 233.4 L882.3 234.9 L885.4 236.3 L888.4 237.5 L891.4 238.6 L894.5 239.7 L897.5 240.9 L900.5 238.7 L903.6 235.4 L906.6 231.3 L909.6 229.8 L912.6 228.6 L915.7 228.0 L918.7 231.8 L921.7 234.5 L924.8 242.1 L927.8 248.5 L930.8 246.7 L933.8 246.1 L936.9 246.7 L939.9 246.0 L942.9 244.2 L946.0 236.9 L949.0 235.0 L952.0 233.1 L955.1 233.8 L958.1 232.0 L961.1 228.3 L964.1 229.7 L967.2 231.7 L970.2 234.9 L973.2 238.7 L976.3 241.7 L979.3 244.6 L982.3 247.1 L985.4 246.0 L988.4 243.0 L991.4 243.8 L994.4 243.5 L997.5 239.1 L1000.5 231.0 L1003.5 232.3 L1006.6 233.4 L1009.6 233.9 L1012.6 233.7 L1015.6 232.2 L1018.7 237.6 L1021.7 249.0 L1024.7 246.3 L1027.8 249.0 L1030.8 242.2 L1033.8 244.9 L1036.9 244.6 L1039.9 241.3 L1042.9 239.8 L1045.9 238.3 L1049.0 236.6 L1052.0 235.8 L1055.0 234.7 L1058.1 233.3 L1061.1 232.4 L1064.1 232.5 L1067.1 237.7 L1070.2 240.7 L1073.2 241.6 L1076.2 242.4 L1079.3 243.1 L1082.3 243.9 L1085.3 244.8 L1088.4 245.8 L1091.4 246.1 L1094.4 246.4 L1097.4 247.5 L1100.5 249.2 L1103.5 250.5 L1106.5 251.3 L1109.6 251.0 L1112.6 250.4 L1115.6 249.8 L1118.6 249.2 L1121.7 248.5 L1124.7 247.5 L1127.7 246.8 L1130.8 247.4 L1133.8 245.1 L1136.8 244.6 L1139.9 246.9 L1142.9 249.7 L1145.9 249.4 L1148.9 249.0 L1152.0 248.5 L1155.0 250.0" stroke="#d0005a" stroke-width="3" fill="none" stroke-linejoin="round" stroke-linecap="round"/>
<path d="M76.5 271.8 L79.5 275.3 L82.6 278.4 L85.6 280.8 L88.6 281.4 L91.6 284.7 L94.7 290.5 L97.7 289.8 L100.7 290.9 L103.8 288.5 L106.8 287.7 L109.8 290.6 L112.9 287.9 L115.9 285.3 L118.9 286.0 L121.9 285.6 L125.0 285.0 L128.0 284.5 L131.0 283.0 L134.1 281.5 L137.1 281.8 L140.1 282.7 L143.1 281.2 L146.2 284.3 L149.2 283.1 L152.2 280.8 L155.3 282.6 L158.3 283.7 L161.3 282.8 L164.4 284.1 L167.4 285.7 L170.4 287.7 L173.4 289.5 L176.5 291.2 L179.5 289.9 L182.5 288.4 L185.6 288.2 L188.6 288.0 L191.6 284.5 L194.7 283.8 L197.7 281.3 L200.7 283.7 L203.7 286.2 L206.8 287.4 L209.8 288.2 L212.8 288.7 L215.9 290.6 L218.9 291.2 L221.9 289.7 L224.9 287.7 L228.0 285.4 L231.0 285.4 L234.0 285.7 L237.1 284.7 L240.1 283.6 L243.1 283.5 L246.2 285.9 L249.2 285.6 L252.2 283.9 L255.2 284.6 L258.3 286.3 L261.3 287.7 L264.3 287.8 L267.4 287.9 L270.4 288.0 L273.4 289.0 L276.4 289.3 L279.5 288.1 L282.5 286.9 L285.5 285.7 L288.6 284.3 L291.6 282.6 L294.6 281.1 L297.7 280.2 L300.7 279.2 L303.7 279.4 L306.7 278.0 L309.8 275.9 L312.8 273.1 L315.8 270.6 L318.9 268.9 L321.9 265.6 L324.9 259.5 L327.9 252.2 L331.0 247.0 L334.0 244.4 L337.0 240.6 L340.1 236.6 L343.1 233.2 L346.1 230.9 L349.2 228.7 L352.2 226.3 L355.2 223.2 L358.2 220.2 L361.3 218.0 L364.3 216.1 L367.3 213.8 L370.4 211.1 L373.4 208.9 L376.4 206.9 L379.4 205.1 L382.5 203.9 L385.5 203.4 L388.5 204.3 L391.6 205.2 L394.6 201.9 L397.6 198.0 L400.7 194.5 L403.7 193.3 L406.7 192.2 L409.7 190.8 L412.8 189.5 L415.8 190.2 L418.8 191.5 L421.9 193.1 L424.9 191.6 L427.9 190.2 L431.0 189.2 L434.0 189.0 L437.0 189.2 L440.0 188.5 L443.1 187.8 L446.1 186.6 L449.1 186.9 L452.2 186.6 L455.2 185.7 L458.2 185.7 L461.2 186.2 L464.3 185.5 L467.3 185.6 L470.3 186.0 L473.4 184.5 L476.4 183.3 L479.4 183.1 L482.5 182.3 L485.5 180.3 L488.5 180.3 L491.5 180.0 L494.6 178.3 L497.6 179.8 L500.6 180.3 L503.7 180.3 L506.7 185.3 L509.7 186.8 L512.7 188.3 L515.8 189.6 L518.8 187.6 L521.8 185.6 L524.9 188.5 L527.9 187.1 L530.9 186.8 L534.0 186.8 L537.0 186.8 L540.0 188.8 L543.0 191.0 L546.1 190.8 L549.1 188.0 L552.1 187.6 L555.2 187.2 L558.2 187.0 L561.2 186.9 L564.2 187.2 L567.3 188.0 L570.3 188.4 L573.3 188.1 L576.4 187.7 L579.4 186.8 L582.4 187.7 L585.5 188.4 L588.5 188.2 L591.5 188.0 L594.5 189.5 L597.6 191.2 L600.6 193.4 L603.6 191.9 L606.7 190.2 L609.7 189.0 L612.7 188.8 L615.8 188.6 L618.8 186.9 L621.8 185.6 L624.8 186.7 L627.9 186.0 L630.9 186.4 L633.9 185.8 L637.0 186.3 L640.0 188.3 L643.0 187.6 L646.0 187.1 L649.1 188.3 L652.1 187.2 L655.1 185.6 L658.2 188.4 L661.2 185.7 L664.2 184.5 L667.3 183.4 L670.3 184.6 L673.3 185.9 L676.3 187.6 L679.4 187.6 L682.4 187.6 L685.4 187.7 L688.5 188.4 L691.5 189.1 L694.5 189.0 L697.5 189.0 L700.6 190.4 L703.6 191.5 L706.6 191.9 L709.7 191.9 L712.7 193.4 L715.7 194.3 L718.8 192.0 L721.8 193.2 L724.8 193.1 L727.8 192.4 L730.9 192.1 L733.9 192.0 L736.9 191.9 L740.0 193.4 L743.0 194.9 L746.0 195.4 L749.0 196.0 L752.1 193.9 L755.1 193.6 L758.1 193.6 L761.2 193.0 L764.2 192.0 L767.2 192.8 L770.3 193.6 L773.3 193.8 L776.3 194.4 L779.3 195.2 L782.4 195.3 L785.4 195.3 L788.4 196.0 L791.5 197.2 L794.5 197.2 L797.5 196.5 L800.6 194.5 L803.6 191.9 L806.6 192.3 L809.6 192.7 L812.7 193.0 L815.7 192.8 L818.7 193.1 L821.8 194.1 L824.8 194.0 L827.8 193.5 L830.8 193.4 L833.9 194.9 L836.9 196.5 L839.9 198.2 L843.0 199.9 L846.0 200.2 L849.0 200.0 L852.1 199.4 L855.1 198.4 L858.1 198.4 L861.1 198.6 L864.2 197.6 L867.2 197.2 L870.2 198.2 L873.3 200.0 L876.3 201.5 L879.3 202.7 L882.3 202.1 L885.4 201.4 L888.4 200.4 L891.4 199.6 L894.5 199.1 L897.5 198.2 L900.5 197.0 L903.6 195.4 L906.6 197.6 L909.6 198.8 L912.6 198.0 L915.7 197.3 L918.7 197.3 L921.7 197.3 L924.8 197.9 L927.8 198.5 L930.8 199.6 L933.8 201.2 L936.9 202.2 L939.9 202.3 L942.9 202.4 L946.0 201.6 L949.0 200.8 L952.0 200.0 L955.1 199.3 L958.1 199.1 L961.1 199.8 L964.1 201.3 L967.2 203.5 L970.2 205.2 L973.2 202.8 L976.3 203.2 L979.3 202.0 L982.3 200.5 L985.4 199.4 L988.4 198.2 L991.4 197.5 L994.4 196.7 L997.5 196.8 L1000.5 197.4 L1003.5 198.2 L1006.6 199.0 L1009.6 199.8 L1012.6 199.6 L1015.6 198.2 L1018.7 195.5 L1021.7 192.2 L1024.7 190.3 L1027.8 188.2 L1030.8 183.4 L1033.8 185.0 L1036.9 186.8 L1039.9 188.3 L1042.9 192.5 L1045.9 194.1 L1049.0 194.9 L1052.0 195.4 L1055.0 193.2 L1058.1 191.3 L1061.1 190.1 L1064.1 183.8 L1067.1 184.4 L1070.2 184.7 L1073.2 185.3 L1076.2 187.8 L1079.3 188.6 L1082.3 189.0 L1085.3 191.8 L1088.4 194.0 L1091.4 195.0 L1094.4 192.0 L1097.4 190.0 L1100.5 188.5 L1103.5 187.8 L1106.5 186.0 L1109.6 186.1 L1112.6 184.4 L1115.6 183.4 L1118.6 184.8 L1121.7 187.2 L1124.7 189.7 L1127.7 191.9 L1130.8 192.4 L1133.8 193.9 L1136.8 196.4 L1139.9 197.3 L1142.9 197.9 L1145.9 199.0 L1148.9 200.2 L1152.0 201.2 L1155.0 201.7" stroke="#f2c200" stroke-width="3" fill="none" stroke-linejoin="round" stroke-linecap="round"/>
<path d="M76.5 179.0 L79.5 181.2 L82.6 179.9 L85.6 183.4 L88.6 177.1 L91.6 176.0 L94.7 175.0 L97.7 180.7 L100.7 179.8 L103.8 179.3 L106.8 181.4 L109.8 183.8 L112.9 182.5 L115.9 180.7 L118.9 176.0 L121.9 176.0 L125.0 175.3 L128.0 172.3 L131.0 174.5 L134.1 175.7 L137.1 176.5 L140.1 176.7 L143.1 176.9 L146.2 179.4 L149.2 179.6 L152.2 181.4 L155.3 183.8 L158.3 181.5 L161.3 179.7 L164.4 179.4 L167.4 179.9 L170.4 179.8 L173.4 174.8 L176.5 176.7 L179.5 179.3 L182.5 182.3 L185.6 183.6 L188.6 184.5 L191.6 186.9 L194.7 189.2 L197.7 190.4 L200.7 194.4 L203.7 193.1 L206.8 193.5 L209.8 189.7 L212.8 187.7 L215.9 186.8 L218.9 186.5 L221.9 186.5 L224.9 186.5 L228.0 187.1 L231.0 187.7 L234.0 190.2 L237.1 192.6 L240.1 194.6 L243.1 196.5 L246.2 194.7 L249.2 193.0 L252.2 193.6 L255.2 193.0 L258.3 191.7 L261.3 189.3 L264.3 188.4 L267.4 190.4 L270.4 193.7 L273.4 196.7 L276.4 197.6 L279.5 198.7 L282.5 199.7 L285.5 197.4 L288.6 195.4 L291.6 197.7 L294.6 199.2 L297.7 200.1 L300.7 197.2 L303.7 194.2 L306.7 194.8 L309.8 194.4 L312.8 191.6 L315.8 190.0 L318.9 188.2 L321.9 189.0 L324.9 193.6 L327.9 194.2 L331.0 196.4 L334.0 194.2 L337.0 195.6 L340.1 197.1 L343.1 197.9 L346.1 195.3 L349.2 196.1 L352.2 195.7 L355.2 199.3 L358.2 199.2 L361.3 200.0 L364.3 200.4 L367.3 200.4 L370.4 199.2 L373.4 194.8 L376.4 190.6 L379.4 190.8 L382.5 190.3 L385.5 189.1 L388.5 188.2 L391.6 187.9 L394.6 191.5 L397.6 191.9 L400.7 192.6 L403.7 194.0 L406.7 195.3 L409.7 194.7 L412.8 193.2 L415.8 190.3 L418.8 187.5 L421.9 184.6 L424.9 183.1 L427.9 182.1 L431.0 182.6 L434.0 183.5 L437.0 185.3 L440.0 190.5 L443.1 194.3 L446.1 196.4 L449.1 195.9 L452.2 197.2 L455.2 196.0 L458.2 194.0 L461.2 190.7 L464.3 189.3 L467.3 189.4 L470.3 191.4 L473.4 194.2 L476.4 195.6 L479.4 196.6 L482.5 198.1 L485.5 199.0 L488.5 198.8 L491.5 198.8 L494.6 199.1 L497.6 200.9 L500.6 201.6 L503.7 201.6 L506.7 200.9 L509.7 201.0 L512.7 203.5 L515.8 200.8 L518.8 201.9 L521.8 198.8 L524.9 201.4 L527.9 202.3 L530.9 204.3 L534.0 205.0 L537.0 205.0 L540.0 202.5 L543.0 207.3 L546.1 210.4 L549.1 212.4 L552.1 214.1 L555.2 216.1 L558.2 218.7 L561.2 218.6 L564.2 217.5 L567.3 216.5 L570.3 213.0 L573.3 208.8 L576.4 204.4 L579.4 203.8 L582.4 204.0 L585.5 202.5 L588.5 196.2 L591.5 198.8 L594.5 202.3 L597.6 204.8 L600.6 205.6 L603.6 206.8 L606.7 208.3 L609.7 213.5 L612.7 213.1 L615.8 211.6 L618.8 212.3 L621.8 212.0 L624.8 208.8 L627.9 207.3 L630.9 207.5 L633.9 208.3 L637.0 205.6 L640.0 202.3 L643.0 204.1 L646.0 205.5 L649.1 204.3 L652.1 202.1 L655.1 202.3 L658.2 202.6 L661.2 203.1 L664.2 204.1 L667.3 205.4 L670.3 204.4 L673.3 207.8 L676.3 207.0 L679.4 203.8 L682.4 206.0 L685.4 206.8 L688.5 204.4 L691.5 204.0 L694.5 197.4 L697.5 198.7 L700.6 200.0 L703.6 201.2 L706.6 201.8 L709.7 203.6 L712.7 205.5 L715.7 207.0 L718.8 205.4 L721.8 203.8 L724.8 201.6 L727.8 199.1 L730.9 192.7 L733.9 194.1 L736.9 196.7 L740.0 196.5 L743.0 196.6 L746.0 199.4 L749.0 202.3 L752.1 205.4 L755.1 202.7 L758.1 199.1 L761.2 204.0 L764.2 201.3 L767.2 200.3 L770.3 199.5 L773.3 197.8 L776.3 197.2 L779.3 197.6 L782.4 197.1 L785.4 196.9 L788.4 199.4 L791.5 201.2 L794.5 202.2 L797.5 201.2 L800.6 199.9 L803.6 199.9 L806.6 199.9 L809.6 197.6 L812.7 195.1 L815.7 193.5 L818.7 192.0 L821.8 195.7 L824.8 197.2 L827.8 198.3 L830.8 199.8 L833.9 203.5 L836.9 206.3 L839.9 206.6 L843.0 205.8 L846.0 204.6 L849.0 203.2 L852.1 201.5 L855.1 200.0 L858.1 202.1 L861.1 203.0 L864.2 203.3 L867.2 206.9 L870.2 209.7 L873.3 209.9 L876.3 209.9 L879.3 205.4 L882.3 206.5 L885.4 204.2 L888.4 202.1 L891.4 202.4 L894.5 202.7 L897.5 202.3 L900.5 201.8 L903.6 202.2 L906.6 203.2 L909.6 201.2 L912.6 197.5 L915.7 193.7 L918.7 191.9 L921.7 195.5 L924.8 194.9 L927.8 194.5 L930.8 197.4 L933.8 199.3 L936.9 200.7 L939.9 201.4 L942.9 199.9 L946.0 197.3 L949.0 197.8 L952.0 197.6 L955.1 195.7 L958.1 193.9 L961.1 193.6 L964.1 196.2 L967.2 198.1 L970.2 197.5 L973.2 197.0 L976.3 198.8 L979.3 201.9 L982.3 204.4 L985.4 203.9 L988.4 203.3 L991.4 204.6 L994.4 205.9 L997.5 207.4 L1000.5 208.9 L1003.5 206.5 L1006.6 205.4 L1009.6 206.8 L1012.6 208.3 L1015.6 206.8 L1018.7 205.0 L1021.7 202.7 L1024.7 200.5 L1027.8 199.1 L1030.8 198.0 L1033.8 197.3 L1036.9 198.5 L1039.9 194.2 L1042.9 195.9 L1045.9 198.1 L1049.0 199.9 L1052.0 197.3 L1055.0 194.3 L1058.1 191.9 L1061.1 190.6 L1064.1 189.9 L1067.1 190.2 L1070.2 185.0 L1073.2 187.2 L1076.2 192.7 L1079.3 194.3 L1082.3 194.5 L1085.3 196.8 L1088.4 195.4 L1091.4 197.5 L1094.4 200.3 L1097.4 196.7 L1100.5 195.0 L1103.5 195.4 L1106.5 192.8 L1109.6 191.9 L1112.6 190.8 L1115.6 188.2 L1118.6 187.5 L1121.7 189.0 L1124.7 190.2 L1127.7 190.4 L1130.8 189.3 L1133.8 187.2 L1136.8 190.0 L1139.9 193.0 L1142.9 191.4 L1145.9 190.3 L1148.9 193.6 L1152.0 197.5 L1155.0 198.3" stroke="#076844" stroke-width="3" fill="none" stroke-linejoin="round" stroke-linecap="round"/>
<path d="M76.5 262.9 L79.5 263.0 L82.6 263.1 L85.6 263.1 L88.6 263.2 L91.6 263.3 L94.7 263.5 L97.7 264.3 L100.7 265.1 L103.8 265.1 L106.8 265.1 L109.8 265.1 L112.9 264.8 L115.9 264.3 L118.9 263.8 L121.9 263.4 L125.0 263.4 L128.0 263.4 L131.0 263.4 L134.1 263.4 L137.1 263.4 L140.1 263.4 L143.1 263.8 L146.2 264.7 L149.2 265.4 L152.2 265.5 L155.3 265.6 L158.3 265.7 L161.3 265.7 L164.4 265.7 L167.4 265.6 L170.4 265.4 L173.4 265.3 L176.5 265.2 L179.5 265.1 L182.5 264.8 L185.6 264.6 L188.6 263.7 L191.6 262.6 L194.7 261.6 L197.7 261.0 L200.7 260.4 L203.7 260.2 L206.8 260.0 L209.8 260.0 L212.8 260.0 L215.9 260.3 L218.9 261.2 L221.9 262.1 L224.9 262.9 L228.0 263.4 L231.0 263.4 L234.0 263.4 L237.1 263.4 L240.1 263.4 L243.1 262.8 L246.2 262.2 L249.2 261.8 L252.2 261.4 L255.2 261.3 L258.3 261.2 L261.3 261.1 L264.3 261.1 L267.4 261.1 L270.4 261.1 L273.4 261.9 L276.4 262.5 L279.5 262.8 L282.5 263.1 L285.5 263.2 L288.6 263.1 L291.6 263.0 L294.6 262.9 L297.7 262.8 L300.7 262.3 L303.7 261.7 L306.7 261.3 L309.8 260.9 L312.8 260.2 L315.8 259.0 L318.9 257.9 L321.9 257.0 L324.9 256.0 L327.9 255.1 L331.0 254.2 L334.0 254.4 L337.0 255.0 L340.1 255.0 L343.1 254.4 L346.1 253.8 L349.2 253.6 L352.2 253.6 L355.2 253.6 L358.2 252.9 L361.3 252.2 L364.3 252.4 L367.3 253.1 L370.4 253.7 L373.4 254.0 L376.4 254.4 L379.4 255.0 L382.5 255.2 L385.5 254.9 L388.5 254.0 L391.6 253.6 L394.6 253.7 L397.6 253.8 L400.7 253.9 L403.7 254.1 L406.7 254.9 L409.7 255.3 L412.8 255.3 L415.8 255.3 L418.8 255.3 L421.9 254.7 L424.9 253.7 L427.9 254.5 L431.0 255.4 L434.0 255.7 L437.0 256.0 L440.0 255.9 L443.1 255.9 L446.1 256.7 L449.1 256.2 L452.2 255.4 L455.2 260.3 L458.2 259.8 L461.2 259.5 L464.3 260.2 L467.3 260.1 L470.3 259.6 L473.4 259.2 L476.4 258.9 L479.4 258.8 L482.5 258.0 L485.5 256.7 L488.5 255.0 L491.5 253.9 L494.6 256.0 L497.6 256.4 L500.6 252.8 L503.7 251.9 L506.7 253.1 L509.7 256.2 L512.7 257.6 L515.8 255.1 L518.8 254.0 L521.8 256.5 L524.9 255.8 L527.9 254.6 L530.9 252.4 L534.0 249.6 L537.0 248.5 L540.0 251.0 L543.0 248.8 L546.1 246.0 L549.1 243.6 L552.1 246.9 L555.2 248.5 L558.2 249.2 L561.2 247.1 L564.2 250.3 L567.3 253.7 L570.3 256.3 L573.3 255.0 L576.4 252.5 L579.4 252.1 L582.4 251.2 L585.5 249.4 L588.5 246.4 L591.5 242.9 L594.5 242.1 L597.6 241.4 L600.6 238.6 L603.6 235.4 L606.7 233.6 L609.7 235.2 L612.7 238.3 L615.8 241.6 L618.8 244.3 L621.8 246.5 L624.8 248.1 L627.9 249.8 L630.9 251.4 L633.9 251.2 L637.0 251.3 L640.0 250.6 L643.0 251.3 L646.0 251.2 L649.1 248.3 L652.1 245.4 L655.1 248.4 L658.2 251.0 L661.2 252.5 L664.2 255.2 L667.3 258.5 L670.3 260.9 L673.3 263.2 L676.3 261.6 L679.4 259.9 L682.4 258.4 L685.4 255.5 L688.5 249.7 L691.5 249.4 L694.5 249.7 L697.5 248.7 L700.6 248.1 L703.6 248.6 L706.6 251.4 L709.7 254.3 L712.7 255.1 L715.7 253.2 L718.8 253.7 L721.8 255.9 L724.8 255.3 L727.8 254.7 L730.9 254.1 L733.9 255.7 L736.9 258.7 L740.0 258.3 L743.0 258.1 L746.0 260.1 L749.0 261.1 L752.1 262.0 L755.1 264.3 L758.1 263.5 L761.2 261.6 L764.2 260.3 L767.2 259.0 L770.3 260.1 L773.3 261.6 L776.3 261.3 L779.3 261.9 L782.4 263.9 L785.4 266.3 L788.4 268.8 L791.5 270.4 L794.5 270.9 L797.5 271.1 L800.6 270.4 L803.6 269.6 L806.6 269.6 L809.6 269.6 L812.7 270.3 L815.7 271.3 L818.7 270.8 L821.8 269.6 L824.8 269.8 L827.8 269.6 L830.8 268.1 L833.9 266.6 L836.9 265.1 L839.9 265.9 L843.0 266.9 L846.0 268.9 L849.0 271.4 L852.1 273.9 L855.1 276.5 L858.1 278.9 L861.1 280.0 L864.2 281.1 L867.2 280.2 L870.2 278.9 L873.3 277.1 L876.3 276.1 L879.3 275.6 L882.3 276.3 L885.4 279.4 L888.4 280.8 L891.4 281.3 L894.5 285.7 L897.5 285.7 L900.5 285.1 L903.6 284.6 L906.6 284.0 L909.6 283.1 L912.6 282.0 L915.7 282.2 L918.7 283.3 L921.7 282.6 L924.8 281.7 L927.8 280.9 L930.8 279.8 L933.8 277.5 L936.9 275.0 L939.9 272.4 L942.9 270.4 L946.0 271.1 L949.0 271.8 L952.0 273.7 L955.1 275.8 L958.1 278.4 L961.1 280.9 L964.1 282.0 L967.2 282.4 L970.2 281.7 L973.2 280.8 L976.3 279.8 L979.3 278.8 L982.3 277.3 L985.4 275.5 L988.4 273.7 L991.4 274.3 L994.4 276.0 L997.5 278.5 L1000.5 280.4 L1003.5 281.4 L1006.6 282.1 L1009.6 282.4 L1012.6 282.7 L1015.6 282.3 L1018.7 281.9 L1021.7 281.6 L1024.7 282.2 L1027.8 285.2 L1030.8 288.1 L1033.8 288.6 L1036.9 289.0 L1039.9 289.4 L1042.9 288.4 L1045.9 287.1 L1049.0 284.3 L1052.0 282.0 L1055.0 280.6 L1058.1 281.1 L1061.1 283.1 L1064.1 285.3 L1067.1 288.0 L1070.2 290.9 L1073.2 291.1 L1076.2 290.1 L1079.3 287.3 L1082.3 284.2 L1085.3 283.3 L1088.4 282.7 L1091.4 281.7 L1094.4 281.4 L1097.4 281.9 L1100.5 281.9 L1103.5 281.7 L1106.5 281.1 L1109.6 279.2 L1112.6 278.4 L1115.6 278.0 L1118.6 277.3 L1121.7 276.3 L1124.7 275.2 L1127.7 273.7 L1130.8 276.1 L1133.8 278.2 L1136.8 278.0 L1139.9 278.1 L1142.9 279.6 L1145.9 280.7 L1148.9 279.8 L1152.0 280.4 L1155.0 282.1" stroke="#fa9f27" stroke-width="3" fill="none" stroke-linejoin="round" stroke-linecap="round"/>
<path d="M879.3 190.4 L882.3 189.5 L885.4 188.6 L888.4 187.6 L891.4 186.6 L894.5 185.5 L897.5 186.3 L900.5 188.0 L903.6 188.3 L906.6 189.7 L909.6 193.3 L912.6 197.9 L915.7 200.1 L918.7 202.0 L921.7 203.6 L924.8 205.7 L927.8 208.0 L930.8 210.2 L933.8 210.6 L936.9 209.2 L939.9 209.2 L942.9 209.8 L946.0 211.1 L949.0 211.5 L952.0 210.7 L955.1 210.2 L958.1 210.7 L961.1 211.3 L964.1 211.1 L967.2 211.1 L970.2 211.6 L973.2 213.0 L976.3 215.0 L979.3 214.6 L982.3 213.7 L985.4 212.2 L988.4 210.7 L991.4 211.3 L994.4 212.1 L997.5 213.1 L1000.5 214.0 L1003.5 215.2 L1006.6 217.3 L1009.6 220.1 L1012.6 220.9 L1015.6 222.2 L1018.7 223.8 L1021.7 226.6 L1024.7 223.4 L1027.8 220.9 L1030.8 220.1 L1033.8 219.2 L1036.9 217.3 L1039.9 215.4 L1042.9 214.5 L1045.9 213.6 L1049.0 216.5 L1052.0 218.1 L1055.0 218.6 L1058.1 220.0 L1061.1 222.8 L1064.1 226.8 L1067.1 231.3 L1070.2 233.3 L1073.2 236.7 L1076.2 239.4 L1079.3 240.1 L1082.3 240.8 L1085.3 241.4 L1088.4 243.0 L1091.4 246.0 L1094.4 248.3 L1097.4 250.4 L1100.5 252.9 L1103.5 254.3 L1106.5 254.3 L1109.6 254.0 L1112.6 253.6 L1115.6 253.6 L1118.6 253.8 L1121.7 255.9 L1124.7 258.8 L1127.7 263.1 L1130.8 266.8 L1133.8 270.0 L1136.8 273.8 L1139.9 277.4 L1142.9 280.4 L1145.9 281.2 L1148.9 282.9 L1152.0 284.5 L1155.0 284.5" stroke="#c98ad6" stroke-width="3" fill="none" stroke-linejoin="round" stroke-linecap="round"/>
<path d="M76.5 261.9 L79.5 260.4 L82.6 259.9 L85.6 259.8 L88.6 259.7 L91.6 259.6 L94.7 259.3 L97.7 258.4 L100.7 260.2 L103.8 262.5 L106.8 262.4 L109.8 262.3 L112.9 262.8 L115.9 260.8 L118.9 261.8 L121.9 262.9 L125.0 263.2 L128.0 263.0 L131.0 262.1 L134.1 263.9 L137.1 265.2 L140.1 261.9 L143.1 258.6 L146.2 260.3 L149.2 262.4 L152.2 264.3 L155.3 264.6 L158.3 265.0 L161.3 267.8 L164.4 266.0 L167.4 262.6 L170.4 257.9 L173.4 253.3 L176.5 250.7 L179.5 248.5 L182.5 249.5 L185.6 250.5 L188.6 251.4 L191.6 252.8 L194.7 256.2 L197.7 257.0 L200.7 257.2 L203.7 258.0 L206.8 260.9 L209.8 263.7 L212.8 265.2 L215.9 266.8 L218.9 270.3 L221.9 274.7 L224.9 278.2 L228.0 278.2 L231.0 277.8 L234.0 276.6 L237.1 277.6 L240.1 277.5 L243.1 275.7 L246.2 273.1 L249.2 271.9 L252.2 271.4 L255.2 274.1 L258.3 276.5 L261.3 277.1 L264.3 276.1 L267.4 277.8 L270.4 279.4 L273.4 277.5 L276.4 275.4 L279.5 273.2 L282.5 273.7 L285.5 273.6 L288.6 273.2 L291.6 273.8 L294.6 274.1 L297.7 274.3 L300.7 272.9 L303.7 270.4 L306.7 269.7 L309.8 265.5 L312.8 261.5 L315.8 258.0 L318.9 256.2 L321.9 253.0 L324.9 248.1 L327.9 242.3 L331.0 239.9 L334.0 237.6 L337.0 233.9 L340.1 230.5 L343.1 227.5 L346.1 226.7 L349.2 225.8 L352.2 222.6 L355.2 221.2 L358.2 221.9 L361.3 220.1 L364.3 217.6 L367.3 215.6 L370.4 213.3 L373.4 211.2 L376.4 210.9 L379.4 210.6 L382.5 210.1 L385.5 209.7 L388.5 210.1 L391.6 210.4 L394.6 208.6 L397.6 206.8 L400.7 204.9 L403.7 203.1 L406.7 202.0 L409.7 200.8 L412.8 203.7 L415.8 202.2 L418.8 203.5 L421.9 204.3 L424.9 204.5 L427.9 203.4 L431.0 202.6 L434.0 203.3 L437.0 204.1 L440.0 205.3 L443.1 206.3 L446.1 206.8 L449.1 207.0 L452.2 207.3 L455.2 208.4 L458.2 209.4 L461.2 211.8 L464.3 214.4 L467.3 213.8 L470.3 212.9 L473.4 212.0 L476.4 206.2 L479.4 203.0 L482.5 200.0 L485.5 197.1 L488.5 194.3 L491.5 195.8 L494.6 197.4 L497.6 198.9 L500.6 200.4 L503.7 201.5 L506.7 202.8 L509.7 206.7 L512.7 207.6 L515.8 207.3 L518.8 207.4 L521.8 207.6 L524.9 207.9 L527.9 208.3 L530.9 208.2 L534.0 208.0 L537.0 208.6 L540.0 209.9 L543.0 211.0 L546.1 211.9 L549.1 212.5 L552.1 212.8 L555.2 213.8 L558.2 216.0 L561.2 212.7 L564.2 209.3 L567.3 209.1 L570.3 208.6 L573.3 207.6 L576.4 208.0 L579.4 209.2 L582.4 210.0 L585.5 210.7 L588.5 210.1 L591.5 208.9 L594.5 211.7 L597.6 213.9 L600.6 215.0 L603.6 216.2 L606.7 217.5 L609.7 218.8 L612.7 218.9 L615.8 215.7 L618.8 214.1 L621.8 213.6 L624.8 213.2 L627.9 212.8 L630.9 212.5 L633.9 212.9 L637.0 216.0 L640.0 218.2 L643.0 218.7 L646.0 216.7 L649.1 217.2 L652.1 218.9 L655.1 220.5 L658.2 222.0 L661.2 223.5 L664.2 225.4 L667.3 227.1 L670.3 228.8 L673.3 229.8 L676.3 228.9 L679.4 228.0 L682.4 227.1 L685.4 226.2 L688.5 225.2 L691.5 224.2 L694.5 224.5 L697.5 226.0 L700.6 226.4 L703.6 226.5 L706.6 226.6 L709.7 228.1 L712.7 231.4 L715.7 235.2 L718.8 237.0 L721.8 237.7 L724.8 235.8 L727.8 234.7 L730.9 236.0 L733.9 235.9 L736.9 234.7 L740.0 234.4 L743.0 236.0 L746.0 236.8 L749.0 237.1 L752.1 235.2 L755.1 233.1 L758.1 232.0 L761.2 231.2 L764.2 231.0 L767.2 230.4 L770.3 228.1 L773.3 228.5 L776.3 229.8 L779.3 230.5 L782.4 229.0 L785.4 230.2 L788.4 232.3 L791.5 233.4 L794.5 234.3 L797.5 234.7 L800.6 234.8 L803.6 235.5 L806.6 235.7 L809.6 235.3 L812.7 234.8 L815.7 234.1 L818.7 233.9 L821.8 234.2 L824.8 233.5 L827.8 235.1 L830.8 236.7 L833.9 237.4 L836.9 237.6 L839.9 237.3 L843.0 240.0 L846.0 242.9 L849.0 243.1 L852.1 243.3 L855.1 243.6 L858.1 244.4 L861.1 244.9 L864.2 243.2 L867.2 241.4 L870.2 239.2 L873.3 240.4 L876.3 242.8 L879.3 240.8 L882.3 239.1 L885.4 237.9 L888.4 236.8 L891.4 235.2 L894.5 235.3 L897.5 237.7 L900.5 237.8 L903.6 237.2 L906.6 236.5 L909.6 235.8 L912.6 234.9 L915.7 233.8 L918.7 232.7 L921.7 232.3 L924.8 231.9 L927.8 231.9 L930.8 232.1 L933.8 232.1 L936.9 232.1 L939.9 232.6 L942.9 234.4 L946.0 235.6 L949.0 236.2 L952.0 236.7 L955.1 237.1 L958.1 238.7 L961.1 241.0 L964.1 237.8 L967.2 235.0 L970.2 234.1 L973.2 233.2 L976.3 234.5 L979.3 235.8 L982.3 236.4 L985.4 236.7 L988.4 237.5 L991.4 238.6 L994.4 239.3 L997.5 238.8 L1000.5 238.2 L1003.5 236.5 L1006.6 234.9 L1009.6 234.5 L1012.6 234.7 L1015.6 235.2 L1018.7 235.3 L1021.7 235.1 L1024.7 235.9 L1027.8 237.9 L1030.8 237.5 L1033.8 236.0 L1036.9 232.4 L1039.9 228.6 L1042.9 226.2 L1045.9 224.3 L1049.0 223.8 L1052.0 222.9 L1055.0 221.7 L1058.1 223.8 L1061.1 226.3 L1064.1 228.3 L1067.1 228.3 L1070.2 228.3 L1073.2 227.6 L1076.2 226.8 L1079.3 225.7 L1082.3 224.4 L1085.3 223.7 L1088.4 223.9 L1091.4 225.4 L1094.4 226.8 L1097.4 227.5 L1100.5 228.3 L1103.5 228.5 L1106.5 228.6 L1109.6 229.6 L1112.6 230.7 L1115.6 231.3 L1118.6 231.6 L1121.7 231.8 L1124.7 231.9 L1127.7 232.0 L1130.8 232.0 L1133.8 232.0 L1136.8 231.1 L1139.9 230.5 L1142.9 230.8 L1145.9 230.9 L1148.9 230.0 L1152.0 229.2 L1155.0 228.5" stroke="#ff6230" stroke-width="3" fill="none" stroke-linejoin="round" stroke-linecap="round"/>
<path d="M76.5 262.9 L79.5 263.0 L82.6 263.1 L85.6 263.1 L88.6 263.2 L91.6 263.3 L94.7 263.5 L97.7 264.3 L100.7 265.1 L103.8 265.1 L106.8 265.1 L109.8 265.1 L112.9 264.8 L115.9 264.3 L118.9 263.8 L121.9 263.4 L125.0 263.4 L128.0 263.4 L131.0 263.4 L134.1 263.4 L137.1 263.4 L140.1 263.4 L143.1 263.8 L146.2 264.7 L149.2 265.4 L152.2 265.5 L155.3 265.6 L158.3 265.7 L161.3 265.7 L164.4 265.7 L167.4 265.6 L170.4 265.4 L173.4 265.3 L176.5 265.2 L179.5 265.1 L182.5 264.8 L185.6 264.6 L188.6 263.7 L191.6 262.6 L194.7 261.6 L197.7 261.0 L200.7 260.4 L203.7 260.2 L206.8 260.0 L209.8 260.0 L212.8 260.0 L215.9 260.3 L218.9 261.2 L221.9 262.1 L224.9 262.9 L228.0 263.4 L231.0 263.4 L234.0 263.4 L237.1 263.4 L240.1 263.4 L243.1 262.8 L246.2 262.2 L249.2 261.8 L252.2 261.4 L255.2 261.3 L258.3 261.2 L261.3 261.1 L264.3 261.1 L267.4 261.1 L270.4 261.1 L273.4 261.9 L276.4 262.5 L279.5 262.8 L282.5 263.1 L285.5 263.2 L288.6 263.1 L291.6 263.0 L294.6 262.9 L297.7 262.8 L300.7 262.3 L303.7 261.7 L306.7 261.3 L309.8 260.9 L312.8 260.2 L315.8 259.0 L318.9 257.9 L321.9 257.0 L324.9 256.0 L327.9 255.1 L331.0 254.2 L334.0 254.4 L337.0 255.0 L340.1 255.0 L343.1 254.4 L346.1 253.8 L349.2 253.6 L352.2 253.6 L355.2 253.6 L358.2 252.9 L361.3 252.2 L364.3 252.4 L367.3 253.1 L370.4 253.7 L373.4 254.0 L376.4 254.4 L379.4 255.0 L382.5 255.2 L385.5 254.9 L388.5 254.0 L391.6 253.6 L394.6 253.7 L397.6 253.8 L400.7 253.9 L403.7 254.1 L406.7 254.9 L409.7 255.3 L412.8 255.3 L415.8 255.3 L418.8 255.3 L421.9 254.7 L424.9 253.7 L427.9 254.5 L431.0 255.4 L434.0 255.7 L437.0 256.0 L440.0 255.9 L443.1 255.9 L446.1 256.7 L449.1 256.2 L452.2 255.4 L455.2 256.4 L458.2 257.1 L461.2 257.4 L464.3 257.6 L467.3 257.1 L470.3 256.5 L473.4 256.5 L476.4 256.5 L479.4 256.7 L482.5 257.1 L485.5 257.6 L488.5 258.2 L491.5 258.8 L494.6 259.5 L497.6 260.0 L500.6 260.1 L503.7 260.2 L506.7 260.3 L509.7 260.6 L512.7 260.9 L515.8 261.1 L518.8 261.3 L521.8 261.4 L524.9 261.6 L527.9 261.7 L530.9 261.9 L534.0 262.0 L537.0 262.5 L540.0 263.3 L543.0 264.2 L546.1 265.4 L549.1 267.0 L552.1 268.8 L555.2 270.5 L558.2 272.0 L561.2 272.7 L564.2 273.0 L567.3 273.0 L570.3 272.7 L573.3 271.7 L576.4 271.3 L579.4 271.3 L582.4 270.9 L585.5 269.9 L588.5 270.5 L591.5 271.8 L594.5 272.0 L597.6 272.2 L600.6 272.4 L603.6 272.9 L606.7 273.4 L609.7 272.5 L612.7 271.7 L615.8 271.8 L618.8 271.8 L621.8 272.0 L624.8 272.1 L627.9 272.6 L630.9 273.2 L633.9 273.2 L637.0 273.2 L640.0 273.8 L643.0 274.6 L646.0 274.2 L649.1 273.4 L652.1 274.3 L655.1 274.3 L658.2 273.5 L661.2 273.3 L664.2 273.5 L667.3 273.7 L670.3 273.5 L673.3 272.3 L676.3 271.9 L679.4 272.0 L682.4 272.0 L685.4 272.6 L688.5 273.3 L691.5 273.8 L694.5 273.6 L697.5 273.5 L700.6 273.2 L703.6 272.7 L706.6 272.0 L709.7 271.5 L712.7 271.5 L715.7 271.5 L718.8 271.5 L721.8 271.5 L724.8 271.6 L727.8 271.6 L730.9 271.6 L733.9 271.8 L736.9 272.6 L740.0 273.3 L743.0 273.3 L746.0 273.3 L749.0 272.9 L752.1 271.6 L755.1 270.2 L758.1 270.0 L761.2 269.8 L764.2 269.7 L767.2 268.9 L770.3 268.0 L773.3 268.7 L776.3 269.5 L779.3 269.8 L782.4 269.9 L785.4 270.0 L788.4 270.1 L791.5 270.1 L794.5 269.9 L797.5 269.3 L800.6 268.4 L803.6 267.9 L806.6 268.1 L809.6 268.3 L812.7 268.4 L815.7 268.3 L818.7 268.1 L821.8 267.9 L824.8 267.8 L827.8 267.7 L830.8 267.6 L833.9 267.4 L836.9 267.3 L839.9 267.5 L843.0 267.9 L846.0 268.3 L849.0 268.4 L852.1 268.4 L855.1 268.4 L858.1 268.4 L861.1 268.3 L864.2 267.3 L867.2 266.6 L870.2 266.4 L873.3 266.3 L876.3 265.8 L879.3 265.1 L882.3 265.9 L885.4 266.5 L888.4 265.8 L891.4 265.0 L894.5 265.5 L897.5 265.6 L900.5 265.1 L903.6 265.8 L906.6 266.2 L909.6 266.2 L912.6 266.2 L915.7 266.3 L918.7 267.3 L921.7 268.3 L924.8 267.7 L927.8 267.0 L930.8 266.7 L933.8 266.6 L936.9 266.6 L939.9 266.5 L942.9 266.4 L946.0 266.4 L949.0 266.3 L952.0 266.3 L955.1 266.2 L958.1 265.7 L961.1 265.0 L964.1 266.0 L967.2 266.7 L970.2 266.7 L973.2 266.7 L976.3 266.7 L979.3 266.7 L982.3 266.1 L985.4 265.4 L988.4 264.9 L991.4 264.8 L994.4 264.7 L997.5 264.5 L1000.5 264.5 L1003.5 264.5 L1006.6 264.5 L1009.6 264.7 L1012.6 264.8 L1015.6 264.7 L1018.7 264.0 L1021.7 263.2 L1024.7 264.2 L1027.8 264.9 L1030.8 265.0 L1033.8 265.1 L1036.9 265.2 L1039.9 266.3 L1042.9 267.5 L1045.9 268.1 L1049.0 268.7 L1052.0 268.9 L1055.0 268.9 L1058.1 268.9 L1061.1 268.9 L1064.1 268.9 L1067.1 268.9 L1070.2 268.9 L1073.2 268.9 L1076.2 268.9 L1079.3 268.9 L1082.3 268.9 L1085.3 268.9 L1088.4 268.9 L1091.4 268.9 L1094.4 269.0 L1097.4 269.8 L1100.5 270.5 L1103.5 269.0 L1106.5 269.3 L1109.6 269.7 L1112.6 269.6 L1115.6 269.1 L1118.6 268.9 L1121.7 268.9 L1124.7 268.9 L1127.7 268.9 L1130.8 268.9 L1133.8 268.9 L1136.8 268.9 L1139.9 268.9 L1142.9 268.9 L1145.9 269.3 L1148.9 270.1 L1152.0 270.9 L1155.0 271.7" stroke="#5db55f" stroke-width="3" fill="none" stroke-linejoin="round" stroke-linecap="round"/>
<path d="M83 9 L99 9" stroke="#c040d8" stroke-width="3" fill="none"/>
<text x="104.8" y="15" font-size="15" letter-spacing="0.6" fill="#333333">Bolsonaro</text>
<path d="M233 9 L249 9" stroke="#00d4c8" stroke-width="3" fill="none"/>
<text x="254.8" y="15" font-size="15" letter-spacing="0.6" fill="#333333">Conte</text>
<path d="M383 9 L399 9" stroke="#f33b3b" stroke-width="3" fill="none"/>
<text x="404.8" y="15" font-size="15" letter-spacing="0.6" fill="#333333">Johnson</text>
<path d="M533 9 L549 9" stroke="#14149e" stroke-width="3" fill="none"/>
<text x="554.8" y="15" font-size="15" letter-spacing="0.6" fill="#333333">Macron</text>
<path d="M683 9 L699 9" stroke="#19bfff" stroke-width="3" fill="none"/>
<text x="704.8" y="15" font-size="15" letter-spacing="0.6" fill="#333333">Merkel</text>
<path d="M833 9 L849 9" stroke="#3838e8" stroke-width="3" fill="none"/>
<text x="854.8" y="15" font-size="15" letter-spacing="0.6" fill="#333333">Modi</text>
<path d="M983 9 L999 9" stroke="#d0005a" stroke-width="3" fill="none"/>
<text x="1004.8" y="15" font-size="15" letter-spacing="0.6" fill="#333333">Moon</text>
<path d="M83 42 L99 42" stroke="#f2c200" stroke-width="3" fill="none"/>
<text x="104.8" y="48" font-size="15" letter-spacing="0.6" fill="#333333">Morrison</text>
<path d="M233 42 L249 42" stroke="#076844" stroke-width="3" fill="none"/>
<text x="254.8" y="48" font-size="15" letter-spacing="0.6" fill="#333333">López Obrador</text>
<path d="M383 42 L399 42" stroke="#fa9f27" stroke-width="3" fill="none"/>
<text x="404.8" y="48" font-size="15" letter-spacing="0.6" fill="#333333">Sánchez</text>
<path d="M533 42 L549 42" stroke="#c98ad6" stroke-width="3" fill="none"/>
<text x="554.8" y="48" font-size="15" letter-spacing="0.6" fill="#333333">Suga</text>
<path d="M683 42 L699 42" stroke="#ff6230" stroke-width="3" fill="none"/>
<text x="704.8" y="48" font-size="15" letter-spacing="0.6" fill="#333333">Trudeau</text>
<path d="M833 42 L849 42" stroke="#5db55f" stroke-width="3" fill="none"/>
<text x="854.8" y="48" font-size="15" letter-spacing="0.6" fill="#333333">Trump</text>
<text x="1166" y="377" text-anchor="end" font-size="9.7" fill="#555555">MORNING CONSULT POLITICAL INTELLGENCE</text>
<text x="21" y="412" font-size="13.7" fill="#999999">Updated December 23, 2020 (Sample sizes vary; 7-Day Moving Average)</text>
</svg>
</body></html>
